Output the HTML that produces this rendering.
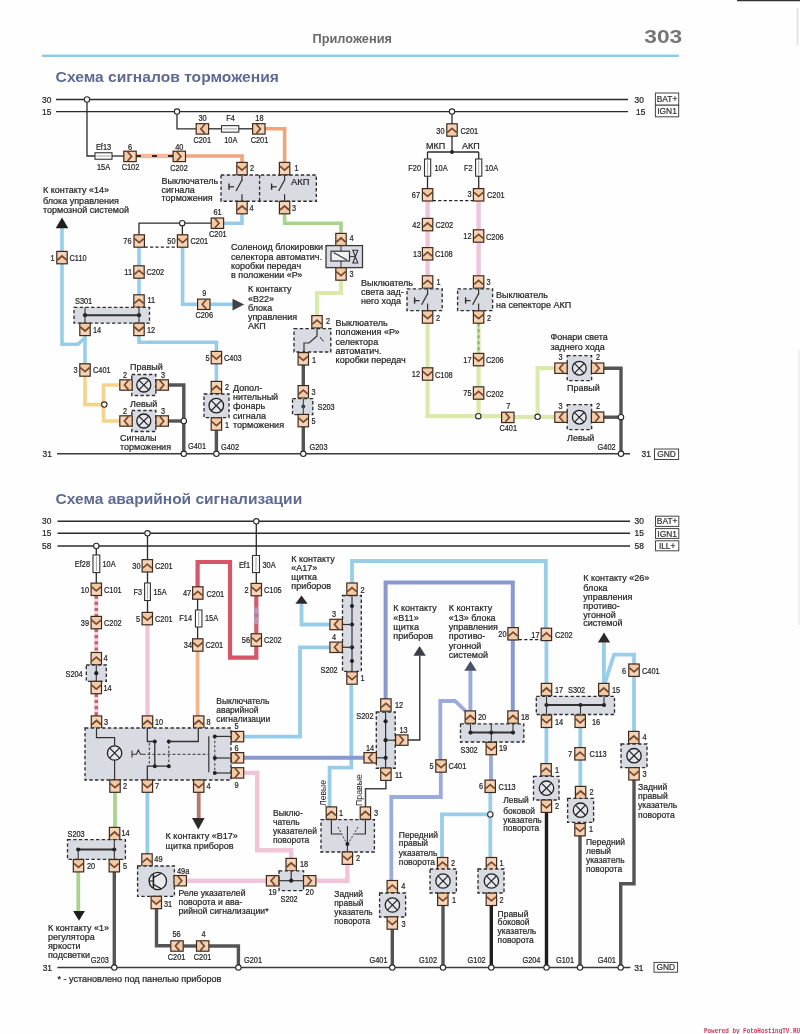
<!DOCTYPE html>
<html><head><meta charset="utf-8"><style>
html,body{margin:0;padding:0;background:#fff;}
svg{display:block;will-change:transform;filter:blur(0.35px);}
text{font-family:"Liberation Sans",sans-serif;}
</style></head><body>
<svg width="800" height="1034" viewBox="0 0 800 1034">
<rect width="800" height="1034" fill="#fefefe"/>
<polyline points="136,156 173,156" fill="none" stroke="#f4b89c" stroke-width="4.6" stroke-linejoin="miter"/>
<polyline points="136,156 173,156" fill="none" stroke="#2b2b2b" stroke-width="1.8" stroke-linejoin="miter" stroke-dasharray="5,11"/>
<polyline points="185.6,156 242,156 242,163" fill="none" stroke="#f2a47c" stroke-width="3.6" stroke-linejoin="miter"/>
<polyline points="265,128.8 284.6,128.8 284.6,163" fill="none" stroke="#f2a47c" stroke-width="3.6" stroke-linejoin="miter"/>
<polyline points="242,213.6 242,223.2 223.5,223.2" fill="none" stroke="#98cdea" stroke-width="3.6" stroke-linejoin="miter"/>
<polyline points="139,247.3 139,266" fill="none" stroke="#98cdea" stroke-width="3.6" stroke-linejoin="miter"/>
<polyline points="139,278.2 139,295" fill="none" stroke="#98cdea" stroke-width="3.6" stroke-linejoin="miter"/>
<polyline points="62,228 62,251.5" fill="none" stroke="#98cdea" stroke-width="3.6" stroke-linejoin="miter"/>
<polyline points="62,263.7 62,344.2 78,344.2 84.6,338" fill="none" stroke="#98cdea" stroke-width="3.6" stroke-linejoin="miter"/>
<polyline points="85,335.5 85,364" fill="none" stroke="#98cdea" stroke-width="3.6" stroke-linejoin="miter"/>
<polyline points="85,376 85,404.6 103.5,404.6" fill="none" stroke="#f6d38c" stroke-width="3.6" stroke-linejoin="miter"/>
<polyline points="120,385 103.5,385 103.5,421 120,421" fill="none" stroke="#f6d38c" stroke-width="3.6" stroke-linejoin="miter"/>
<polyline points="168.5,385 183.8,385 183.8,453.8" fill="none" stroke="#545454" stroke-width="3.4" stroke-linejoin="miter"/>
<polyline points="168.5,421 183.8,421" fill="none" stroke="#545454" stroke-width="3.4" stroke-linejoin="miter"/>
<polyline points="182.6,247.3 182.6,304.3 197.5,304.3" fill="none" stroke="#98cdea" stroke-width="3.6" stroke-linejoin="miter"/>
<polyline points="210,304.3 233,304.3" fill="none" stroke="#98cdea" stroke-width="3.6" stroke-linejoin="miter"/>
<polyline points="139,335.6 139,342.2 216.4,342.2 216.4,351.5" fill="none" stroke="#98cdea" stroke-width="3.6" stroke-linejoin="miter"/>
<polyline points="216.4,363.8 216.4,382" fill="none" stroke="#98cdea" stroke-width="3.6" stroke-linejoin="miter"/>
<polyline points="216.4,430.2 216.4,453.8" fill="none" stroke="#545454" stroke-width="3.4" stroke-linejoin="miter"/>
<polyline points="284.6,213.8 284.6,223.3 341,223.3 341,234" fill="none" stroke="#a9d48b" stroke-width="3.6" stroke-linejoin="miter"/>
<polyline points="341,280 341,293 317,293 317,316" fill="none" stroke="#dce9ad" stroke-width="4.2" stroke-linejoin="miter"/>
<polyline points="303.3,365 303.3,386" fill="none" stroke="#545454" stroke-width="3.4" stroke-linejoin="miter"/>
<polyline points="303.3,426.8 303.3,453.8" fill="none" stroke="#545454" stroke-width="3.4" stroke-linejoin="miter"/>
<polyline points="427.6,201 427.6,219" fill="none" stroke="#f2c4d9" stroke-width="4.4" stroke-linejoin="miter"/>
<polyline points="427.6,230.8 427.6,247.6" fill="none" stroke="#f2c4d9" stroke-width="4.4" stroke-linejoin="miter"/>
<polyline points="427.6,260 427.6,276" fill="none" stroke="#f2c4d9" stroke-width="4.4" stroke-linejoin="miter"/>
<polyline points="427.6,323.2 427.6,368" fill="none" stroke="#dce9ad" stroke-width="4.2" stroke-linejoin="miter"/>
<polyline points="427.6,380.2 427.6,416.2 478.5,416.2" fill="none" stroke="#dce9ad" stroke-width="4.2" stroke-linejoin="miter"/>
<polyline points="478.6,201 478.6,230" fill="none" stroke="#f2c4d9" stroke-width="4.4" stroke-linejoin="miter"/>
<polyline points="478.6,242.2 478.6,276" fill="none" stroke="#f2c4d9" stroke-width="4.4" stroke-linejoin="miter"/>
<polyline points="478.6,323.2 478.6,353.5" fill="none" stroke="#cfe3a0" stroke-width="3.8" stroke-linejoin="miter"/>
<polyline points="478.6,323.2 478.6,353.5" fill="none" stroke="#7aa860" stroke-width="1.6" stroke-linejoin="miter" stroke-dasharray="3,3"/>
<polyline points="478.6,365.8 478.6,387" fill="none" stroke="#dce9ad" stroke-width="4.2" stroke-linejoin="miter"/>
<polyline points="478.6,399.2 478.6,414" fill="none" stroke="#dce9ad" stroke-width="4.2" stroke-linejoin="miter"/>
<polyline points="480.5,416.2 501.5,416.2" fill="none" stroke="#dce9ad" stroke-width="4.2" stroke-linejoin="miter"/>
<polyline points="514,417 535.5,417" fill="none" stroke="#dce9ad" stroke-width="4.2" stroke-linejoin="miter"/>
<polyline points="539.5,417 555,417" fill="none" stroke="#dce9ad" stroke-width="4.2" stroke-linejoin="miter"/>
<polyline points="537.6,414 537.6,368.2 555,368.2" fill="none" stroke="#dce9ad" stroke-width="4.2" stroke-linejoin="miter"/>
<polyline points="603.6,368.2 621,368.2 621,453.8" fill="none" stroke="#545454" stroke-width="3.4" stroke-linejoin="miter"/>
<polyline points="603.6,417.2 621,417.2" fill="none" stroke="#545454" stroke-width="3.4" stroke-linejoin="miter"/>
<polyline points="96.3,595.5 96.3,616.3" fill="none" stroke="#f2d4d8" stroke-width="4.4" stroke-linejoin="miter"/>
<polyline points="96.3,595.5 96.3,616.3" fill="none" stroke="#c8606e" stroke-width="3.4" stroke-linejoin="miter" stroke-dasharray="3.2,3"/>
<polyline points="96.3,628.8 96.3,652.4" fill="none" stroke="#f2d4d8" stroke-width="4.4" stroke-linejoin="miter"/>
<polyline points="96.3,628.8 96.3,652.4" fill="none" stroke="#c8606e" stroke-width="3.4" stroke-linejoin="miter" stroke-dasharray="3.2,3"/>
<polyline points="96.3,693.7 96.3,716.2" fill="none" stroke="#f2d4d8" stroke-width="4.4" stroke-linejoin="miter"/>
<polyline points="96.3,693.7 96.3,716.2" fill="none" stroke="#c8606e" stroke-width="3.4" stroke-linejoin="miter" stroke-dasharray="3.2,3"/>
<polyline points="147.5,624.8 147.5,716.2" fill="none" stroke="#f2c4d9" stroke-width="4.4" stroke-linejoin="miter"/>
<polyline points="256.3,595.8 256.3,633.8" fill="none" stroke="#d65a6a" stroke-width="4.2" stroke-linejoin="miter"/>
<polyline points="256.3,646 256.3,657.6 230,657.6 230,562 197.6,562 197.6,587" fill="none" stroke="#d65566" stroke-width="4.2" stroke-linejoin="miter"/>
<polyline points="197.6,651.2 197.6,716.2" fill="none" stroke="#f2b48c" stroke-width="3.8" stroke-linejoin="miter"/>
<polyline points="115,792.3 115,827.6" fill="none" stroke="#a9d48b" stroke-width="3.8" stroke-linejoin="miter"/>
<polyline points="78.3,872 78.3,911" fill="none" stroke="#a9d48b" stroke-width="3.8" stroke-linejoin="miter"/>
<polyline points="114.3,872 114.3,967.6" fill="none" stroke="#545454" stroke-width="3.4" stroke-linejoin="miter"/>
<polyline points="147.4,792.3 147.4,854" fill="none" stroke="#98cdea" stroke-width="3.8" stroke-linejoin="miter"/>
<polyline points="186.2,880.7 267,880.7" fill="none" stroke="#f2c4d9" stroke-width="4.4" stroke-linejoin="miter"/>
<polyline points="156.5,908.6 156.5,945.8 170.4,945.8" fill="none" stroke="#545454" stroke-width="3.4" stroke-linejoin="miter"/>
<polyline points="183.6,946 196.4,946" fill="none" stroke="#545454" stroke-width="3.4" stroke-linejoin="miter"/>
<polyline points="209,946 238.4,946 238.4,967.6" fill="none" stroke="#545454" stroke-width="3.4" stroke-linejoin="miter"/>
<polyline points="198.7,792.3 198.7,818" fill="none" stroke="#b8776a" stroke-width="3.8" stroke-linejoin="miter"/>
<polyline points="301.5,603.5 301.5,624.5 330,624.5" fill="none" stroke="#98cdea" stroke-width="3.8" stroke-linejoin="miter"/>
<polyline points="243.8,736.6 300,736.6 300,647.3 330,647.3" fill="none" stroke="#98cdea" stroke-width="3.8" stroke-linejoin="miter"/>
<polyline points="352,583 352,561 545.8,561 545.8,628.6" fill="none" stroke="#98cdea" stroke-width="3.8" stroke-linejoin="miter"/>
<polyline points="351.3,684.2 351.3,767.6 329.6,767.6 329.6,807" fill="none" stroke="#98cdea" stroke-width="3.8" stroke-linejoin="miter"/>
<polyline points="243.8,757.8 364,757.8" fill="none" stroke="#8a98d0" stroke-width="4" stroke-linejoin="miter"/>
<polyline points="385.6,698.8 385.6,582.6 512.8,582.6 512.8,627.8" fill="none" stroke="#8a98d0" stroke-width="4" stroke-linejoin="miter"/>
<polyline points="243.8,772.9 257.2,772.9 257.2,850.2 291.2,850.2 291.2,858.6" fill="none" stroke="#f2c4d9" stroke-width="4.4" stroke-linejoin="miter"/>
<polyline points="315.9,880.8 347.4,880.8 347.4,864.4" fill="none" stroke="#f2c4d9" stroke-width="4.4" stroke-linejoin="miter"/>
<polyline points="470.4,670.5 470.4,711" fill="none" stroke="#9aaada" stroke-width="3.9" stroke-linejoin="miter"/>
<polyline points="512.8,639.6 512.8,711" fill="none" stroke="#8a98d0" stroke-width="4" stroke-linejoin="miter"/>
<polyline points="466,711.5 455,701 440.3,701 440.3,760" fill="none" stroke="#9aaada" stroke-width="3.8" stroke-linejoin="miter"/>
<polyline points="440.8,772.2 440.8,797 391.3,797 391.3,881" fill="none" stroke="#9aaada" stroke-width="3.8" stroke-linejoin="miter"/>
<polyline points="491,754.7 491,780" fill="none" stroke="#9aaada" stroke-width="3.9" stroke-linejoin="miter"/>
<polyline points="490.3,792.6 490.3,812" fill="none" stroke="#98cdea" stroke-width="3.8" stroke-linejoin="miter"/>
<polyline points="487.6,814.4 442,814.4 442,857.6" fill="none" stroke="#98cdea" stroke-width="3.8" stroke-linejoin="miter"/>
<polyline points="490.3,817.2 490.3,857.6" fill="none" stroke="#98cdea" stroke-width="3.8" stroke-linejoin="miter"/>
<polyline points="392.3,929.2 392.3,967.6" fill="none" stroke="#545454" stroke-width="3.4" stroke-linejoin="miter"/>
<polyline points="443,905.5 443,967.6" fill="none" stroke="#545454" stroke-width="3.4" stroke-linejoin="miter"/>
<polyline points="491.3,905.5 491.3,967.6" fill="none" stroke="#1e1e1e" stroke-width="3.4" stroke-linejoin="miter"/>
<polyline points="546.4,640.4 546.4,683.5" fill="none" stroke="#98cdea" stroke-width="3.8" stroke-linejoin="miter"/>
<polyline points="603.9,642.4 603.9,683.5" fill="none" stroke="#98cdea" stroke-width="3.8" stroke-linejoin="miter"/>
<polyline points="605,683 614,654.6 634,654.6 634,664.2" fill="none" stroke="#98cdea" stroke-width="3.8" stroke-linejoin="miter"/>
<polyline points="546.4,727.6 546.4,764" fill="none" stroke="#98cdea" stroke-width="3.8" stroke-linejoin="miter"/>
<polyline points="546.5,812.4 546.5,967.6" fill="none" stroke="#1e1e1e" stroke-width="3.4" stroke-linejoin="miter"/>
<polyline points="580.3,727.6 580.3,747.5" fill="none" stroke="#98cdea" stroke-width="3.8" stroke-linejoin="miter"/>
<polyline points="580.3,760 580.3,787" fill="none" stroke="#98cdea" stroke-width="3.8" stroke-linejoin="miter"/>
<polyline points="580,835.8 580,967.6" fill="none" stroke="#545454" stroke-width="3.4" stroke-linejoin="miter"/>
<polyline points="634,676.4 634,732" fill="none" stroke="#98cdea" stroke-width="3.8" stroke-linejoin="miter"/>
<polyline points="634,780 634,883.7 620.7,883.7 620.7,967.6" fill="none" stroke="#545454" stroke-width="3.4" stroke-linejoin="miter"/>
<line x1="42" y1="55.8" x2="679" y2="55.8" stroke="#8fcbe4" stroke-width="2.6"/>
<line x1="737" y1="0.6" x2="800" y2="0.6" stroke="#333" stroke-width="1.4"/>
<line x1="797.5" y1="8" x2="797.5" y2="45" stroke="#ddd" stroke-width="1.5"/>
<line x1="799" y1="350" x2="799" y2="625" stroke="#f0f0f0" stroke-width="2"/>
<line x1="56" y1="99.5" x2="628" y2="99.5" stroke="#2b2b2b" stroke-width="1.4"/>
<line x1="56" y1="111.6" x2="628" y2="111.6" stroke="#2b2b2b" stroke-width="1.4"/>
<line x1="57" y1="453.8" x2="630" y2="453.8" stroke="#3a3a3a" stroke-width="1.5"/>
<rect x="655.4" y="93" width="23.3" height="12.2" fill="#fff" stroke="#444" stroke-width="1"/>
<rect x="655.4" y="105.2" width="23.3" height="11.6" fill="#fff" stroke="#444" stroke-width="1"/>
<rect x="654.5" y="449" width="24.1" height="10.5" fill="#fff" stroke="#444" stroke-width="1"/>
<polyline points="87,102.2 87,156 95,156" fill="none" stroke="#2b2b2b" stroke-width="1.3" stroke-linejoin="miter" stroke-linecap="butt"/>
<rect x="95" y="152.75" width="17" height="6.5" fill="#fff" stroke="#333" stroke-width="1.1"/>
<line x1="96.5" y1="156" x2="110.5" y2="156" stroke="#777" stroke-width="0.7"/>
<line x1="112" y1="156" x2="124" y2="156" stroke="#2b2b2b" stroke-width="1.3"/>
<rect x="123.8" y="151.2" width="12.4" height="10.4" fill="#f6d4b8" stroke="none" stroke-width="0"/>
<polygon points="123.8,151.2 123.8,161.6 127.6,161.6 131.6,156.4 127.6,151.2" fill="#f2caa6"/>
<polyline points="127.6,151.8 131.6,156.4 127.6,161" fill="none" stroke="#7a4a2c" stroke-width="1.7" stroke-linejoin="miter" stroke-linecap="butt" stroke-linejoin="round"/>
<rect x="123.8" y="151.2" width="12.4" height="10.4" fill="none" stroke="#3c2a1e" stroke-width="1.2"/>
<rect x="173.1" y="151.2" width="12.4" height="10.4" fill="#f6d4b8" stroke="none" stroke-width="0"/>
<polygon points="173.1,151.2 173.1,161.6 176.9,161.6 180.9,156.4 176.9,151.2" fill="#f2caa6"/>
<polyline points="176.9,151.8 180.9,156.4 176.9,161" fill="none" stroke="#7a4a2c" stroke-width="1.7" stroke-linejoin="miter" stroke-linecap="butt" stroke-linejoin="round"/>
<rect x="173.1" y="151.2" width="12.4" height="10.4" fill="none" stroke="#3c2a1e" stroke-width="1.2"/>
<polyline points="177,114.3 177,128.8 196,128.8" fill="none" stroke="#2b2b2b" stroke-width="1.3" stroke-linejoin="miter" stroke-linecap="butt"/>
<rect x="196.2" y="123.7" width="12.4" height="10.4" fill="#f6d4b8" stroke="none" stroke-width="0"/>
<polygon points="208.6,123.7 208.6,134.1 204.8,134.1 200.8,128.9 204.8,123.7" fill="#f2caa6"/>
<polyline points="204.8,124.3 200.8,128.9 204.8,133.5" fill="none" stroke="#7a4a2c" stroke-width="1.7" stroke-linejoin="miter" stroke-linecap="butt" stroke-linejoin="round"/>
<rect x="196.2" y="123.7" width="12.4" height="10.4" fill="none" stroke="#3c2a1e" stroke-width="1.2"/>
<line x1="208.6" y1="128.8" x2="221.5" y2="128.8" stroke="#2b2b2b" stroke-width="1.3"/>
<rect x="221.5" y="125.65" width="17.3" height="6.5" fill="#fff" stroke="#333" stroke-width="1.1"/>
<line x1="223" y1="128.9" x2="237.3" y2="128.9" stroke="#777" stroke-width="0.7"/>
<line x1="238.8" y1="128.8" x2="252.5" y2="128.8" stroke="#2b2b2b" stroke-width="1.3"/>
<rect x="252.6" y="123.7" width="12.4" height="10.4" fill="#f6d4b8" stroke="none" stroke-width="0"/>
<polygon points="252.6,123.7 252.6,134.1 256.4,134.1 260.4,128.9 256.4,123.7" fill="#f2caa6"/>
<polyline points="256.4,124.3 260.4,128.9 256.4,133.5" fill="none" stroke="#7a4a2c" stroke-width="1.7" stroke-linejoin="miter" stroke-linecap="butt" stroke-linejoin="round"/>
<rect x="252.6" y="123.7" width="12.4" height="10.4" fill="none" stroke="#3c2a1e" stroke-width="1.2"/>
<rect x="221" y="175" width="95.3" height="26.2" fill="#d8dbe1" stroke="#2e2e2e" stroke-width="1.35" stroke-dasharray="3.4,2.3"/>
<line x1="259.6" y1="175" x2="259.6" y2="201.2" stroke="#2e2e2e" stroke-width="1.35" stroke-dasharray="3.4,2.3"/>
<rect x="236.8" y="162.4" width="10.4" height="12.4" fill="#f6d4b8" stroke="none" stroke-width="0"/>
<polygon points="236.8,162.4 247.2,162.4 247.2,166.2 242,170.2 236.8,166.2" fill="#f2caa6"/>
<polyline points="237.4,166.2 242,170.2 246.6,166.2" fill="none" stroke="#7a4a2c" stroke-width="1.7" stroke-linejoin="miter" stroke-linecap="butt" stroke-linejoin="round"/>
<rect x="236.8" y="162.4" width="10.4" height="12.4" fill="none" stroke="#3c2a1e" stroke-width="1.2"/>
<rect x="279.4" y="162.4" width="10.4" height="12.4" fill="#f6d4b8" stroke="none" stroke-width="0"/>
<polygon points="279.4,162.4 289.8,162.4 289.8,166.2 284.6,170.2 279.4,166.2" fill="#f2caa6"/>
<polyline points="280,166.2 284.6,170.2 289.2,166.2" fill="none" stroke="#7a4a2c" stroke-width="1.7" stroke-linejoin="miter" stroke-linecap="butt" stroke-linejoin="round"/>
<rect x="279.4" y="162.4" width="10.4" height="12.4" fill="none" stroke="#3c2a1e" stroke-width="1.2"/>
<line x1="242" y1="175" x2="242" y2="181" stroke="#333" stroke-width="1.2"/>
<line x1="242" y1="180" x2="236" y2="191" stroke="#333" stroke-width="1.3"/>
<line x1="242" y1="194.2" x2="242" y2="201.2" stroke="#333" stroke-width="1.2"/>
<line x1="229" y1="183.5" x2="229" y2="189.8" stroke="#2a2a2a" stroke-width="1.4"/>
<line x1="229" y1="186.8" x2="234" y2="186.8" stroke="#2a2a2a" stroke-width="1.2"/>
<line x1="284.6" y1="175" x2="284.6" y2="181" stroke="#333" stroke-width="1.2"/>
<line x1="284.6" y1="180" x2="278.6" y2="191" stroke="#333" stroke-width="1.3"/>
<line x1="284.6" y1="194.2" x2="284.6" y2="201.2" stroke="#333" stroke-width="1.2"/>
<line x1="271.6" y1="183.5" x2="271.6" y2="189.8" stroke="#2a2a2a" stroke-width="1.4"/>
<line x1="271.6" y1="186.8" x2="276.6" y2="186.8" stroke="#2a2a2a" stroke-width="1.2"/>
<rect x="236.8" y="201.4" width="10.4" height="12.4" fill="#f6d4b8" stroke="none" stroke-width="0"/>
<polygon points="236.8,213.8 247.2,213.8 247.2,210 242,206 236.8,210" fill="#f2caa6"/>
<polyline points="237.4,210 242,206 246.6,210" fill="none" stroke="#7a4a2c" stroke-width="1.7" stroke-linejoin="miter" stroke-linecap="butt" stroke-linejoin="round"/>
<rect x="236.8" y="201.4" width="10.4" height="12.4" fill="none" stroke="#3c2a1e" stroke-width="1.2"/>
<rect x="279.4" y="201.4" width="10.4" height="12.4" fill="#f6d4b8" stroke="none" stroke-width="0"/>
<polygon points="279.4,213.8 289.8,213.8 289.8,210 284.6,206 279.4,210" fill="#f2caa6"/>
<polyline points="280,210 284.6,206 289.2,210" fill="none" stroke="#7a4a2c" stroke-width="1.7" stroke-linejoin="miter" stroke-linecap="butt" stroke-linejoin="round"/>
<rect x="279.4" y="201.4" width="10.4" height="12.4" fill="none" stroke="#3c2a1e" stroke-width="1.2"/>
<polyline points="211.5,223.2 139,223.2 139,235" fill="none" stroke="#2b2b2b" stroke-width="1.3" stroke-linejoin="miter" stroke-linecap="butt"/>
<line x1="182.4" y1="223.2" x2="182.4" y2="235" stroke="#2b2b2b" stroke-width="1.3"/>
<rect x="211.2" y="218" width="12.4" height="10.4" fill="#f6d4b8" stroke="none" stroke-width="0"/>
<polygon points="211.2,218 211.2,228.4 215,228.4 219,223.2 215,218" fill="#f2caa6"/>
<polyline points="215,218.6 219,223.2 215,227.8" fill="none" stroke="#7a4a2c" stroke-width="1.7" stroke-linejoin="miter" stroke-linecap="butt" stroke-linejoin="round"/>
<rect x="211.2" y="218" width="12.4" height="10.4" fill="none" stroke="#3c2a1e" stroke-width="1.2"/>
<rect x="134" y="234.8" width="10.4" height="12.4" fill="#f6d4b8" stroke="none" stroke-width="0"/>
<polygon points="134,234.8 144.4,234.8 144.4,238.6 139.2,242.6 134,238.6" fill="#f2caa6"/>
<polyline points="134.6,238.6 139.2,242.6 143.8,238.6" fill="none" stroke="#7a4a2c" stroke-width="1.7" stroke-linejoin="miter" stroke-linecap="butt" stroke-linejoin="round"/>
<rect x="134" y="234.8" width="10.4" height="12.4" fill="none" stroke="#3c2a1e" stroke-width="1.2"/>
<rect x="177.4" y="234.8" width="10.4" height="12.4" fill="#f6d4b8" stroke="none" stroke-width="0"/>
<polygon points="177.4,234.8 187.8,234.8 187.8,238.6 182.6,242.6 177.4,238.6" fill="#f2caa6"/>
<polyline points="178,238.6 182.6,242.6 187.2,238.6" fill="none" stroke="#7a4a2c" stroke-width="1.7" stroke-linejoin="miter" stroke-linecap="butt" stroke-linejoin="round"/>
<rect x="177.4" y="234.8" width="10.4" height="12.4" fill="none" stroke="#3c2a1e" stroke-width="1.2"/>
<line x1="144.6" y1="247" x2="177.4" y2="247" stroke="#262626" stroke-width="1.25" stroke-dasharray="3.2,2.2"/>
<rect x="133.8" y="265.8" width="10.4" height="12.4" fill="#f6d4b8" stroke="none" stroke-width="0"/>
<polygon points="133.8,278.2 144.2,278.2 144.2,274.4 139,270.4 133.8,274.4" fill="#f2caa6"/>
<polyline points="134.4,274.4 139,270.4 143.6,274.4" fill="none" stroke="#7a4a2c" stroke-width="1.7" stroke-linejoin="miter" stroke-linecap="butt" stroke-linejoin="round"/>
<rect x="133.8" y="265.8" width="10.4" height="12.4" fill="none" stroke="#3c2a1e" stroke-width="1.2"/>
<rect x="133.8" y="294.8" width="10.4" height="12.4" fill="#f6d4b8" stroke="none" stroke-width="0"/>
<polygon points="133.8,307.2 144.2,307.2 144.2,303.4 139,299.4 133.8,303.4" fill="#f2caa6"/>
<polyline points="134.4,303.4 139,299.4 143.6,303.4" fill="none" stroke="#7a4a2c" stroke-width="1.7" stroke-linejoin="miter" stroke-linecap="butt" stroke-linejoin="round"/>
<rect x="133.8" y="294.8" width="10.4" height="12.4" fill="none" stroke="#3c2a1e" stroke-width="1.2"/>
<rect x="74" y="307.4" width="75.5" height="15.8" fill="#d8dbe1" stroke="#2e2e2e" stroke-width="1.35" stroke-dasharray="3.4,2.3"/>
<line x1="85" y1="315.2" x2="139" y2="315.2" stroke="#333" stroke-width="2"/>
<circle cx="85" cy="315.2" r="2.1" fill="#222"/>
<circle cx="139" cy="315.2" r="2.1" fill="#222"/>
<line x1="85" y1="307.4" x2="85" y2="315" stroke="#333" stroke-width="1.1"/>
<line x1="139" y1="307.4" x2="139" y2="315" stroke="#333" stroke-width="1.1"/>
<line x1="85" y1="315" x2="85" y2="323.2" stroke="#333" stroke-width="1.1"/>
<line x1="139" y1="315" x2="139" y2="323.2" stroke="#333" stroke-width="1.1"/>
<rect x="79.8" y="323.2" width="10.4" height="12.4" fill="#f6d4b8" stroke="none" stroke-width="0"/>
<polygon points="79.8,323.2 90.2,323.2 90.2,327 85,331 79.8,327" fill="#f2caa6"/>
<polyline points="80.4,327 85,331 89.6,327" fill="none" stroke="#7a4a2c" stroke-width="1.7" stroke-linejoin="miter" stroke-linecap="butt" stroke-linejoin="round"/>
<rect x="79.8" y="323.2" width="10.4" height="12.4" fill="none" stroke="#3c2a1e" stroke-width="1.2"/>
<rect x="133.8" y="323.2" width="10.4" height="12.4" fill="#f6d4b8" stroke="none" stroke-width="0"/>
<polygon points="133.8,323.2 144.2,323.2 144.2,327 139,331 133.8,327" fill="#f2caa6"/>
<polyline points="134.4,327 139,331 143.6,327" fill="none" stroke="#7a4a2c" stroke-width="1.7" stroke-linejoin="miter" stroke-linecap="butt" stroke-linejoin="round"/>
<rect x="133.8" y="323.2" width="10.4" height="12.4" fill="none" stroke="#3c2a1e" stroke-width="1.2"/>
<polygon points="62,217.4 55.7,228.2 68.3,228.2" fill="#1e1e1e"/>
<rect x="56.8" y="251.4" width="10.4" height="12.4" fill="#f6d4b8" stroke="none" stroke-width="0"/>
<polygon points="56.8,263.8 67.2,263.8 67.2,260 62,256 56.8,260" fill="#f2caa6"/>
<polyline points="57.4,260 62,256 66.6,260" fill="none" stroke="#7a4a2c" stroke-width="1.7" stroke-linejoin="miter" stroke-linecap="butt" stroke-linejoin="round"/>
<rect x="56.8" y="251.4" width="10.4" height="12.4" fill="none" stroke="#3c2a1e" stroke-width="1.2"/>
<rect x="79.8" y="363.8" width="10.4" height="12.4" fill="#f6d4b8" stroke="none" stroke-width="0"/>
<polygon points="79.8,363.8 90.2,363.8 90.2,367.6 85,371.6 79.8,367.6" fill="#f2caa6"/>
<polyline points="80.4,367.6 85,371.6 89.6,367.6" fill="none" stroke="#7a4a2c" stroke-width="1.7" stroke-linejoin="miter" stroke-linecap="butt" stroke-linejoin="round"/>
<rect x="79.8" y="363.8" width="10.4" height="12.4" fill="none" stroke="#3c2a1e" stroke-width="1.2"/>
<rect x="131.8" y="374.5" width="24" height="21" fill="#d8dbe1" stroke="#2e2e2e" stroke-width="1.35" stroke-dasharray="3.4,2.3"/>
<circle cx="143.8" cy="385" r="7" fill="#e4e6ee" stroke="#222" stroke-width="1.3"/>
<line x1="138.85" y1="380.05" x2="148.75" y2="389.95" stroke="#222" stroke-width="1.2"/>
<line x1="138.85" y1="389.95" x2="148.75" y2="380.05" stroke="#222" stroke-width="1.2"/>
<rect x="119.8" y="379.8" width="12.4" height="10.4" fill="#f6d4b8" stroke="none" stroke-width="0"/>
<polygon points="132.2,379.8 132.2,390.2 128.4,390.2 124.4,385 128.4,379.8" fill="#f2caa6"/>
<polyline points="128.4,380.4 124.4,385 128.4,389.6" fill="none" stroke="#7a4a2c" stroke-width="1.7" stroke-linejoin="miter" stroke-linecap="butt" stroke-linejoin="round"/>
<rect x="119.8" y="379.8" width="12.4" height="10.4" fill="none" stroke="#3c2a1e" stroke-width="1.2"/>
<rect x="156" y="379.8" width="12.4" height="10.4" fill="#f6d4b8" stroke="none" stroke-width="0"/>
<polygon points="156,379.8 156,390.2 159.8,390.2 163.8,385 159.8,379.8" fill="#f2caa6"/>
<polyline points="159.8,380.4 163.8,385 159.8,389.6" fill="none" stroke="#7a4a2c" stroke-width="1.7" stroke-linejoin="miter" stroke-linecap="butt" stroke-linejoin="round"/>
<rect x="156" y="379.8" width="12.4" height="10.4" fill="none" stroke="#3c2a1e" stroke-width="1.2"/>
<rect x="131.8" y="410.5" width="24" height="21" fill="#d8dbe1" stroke="#2e2e2e" stroke-width="1.35" stroke-dasharray="3.4,2.3"/>
<circle cx="143.8" cy="421" r="7" fill="#e4e6ee" stroke="#222" stroke-width="1.3"/>
<line x1="138.85" y1="416.05" x2="148.75" y2="425.95" stroke="#222" stroke-width="1.2"/>
<line x1="138.85" y1="425.95" x2="148.75" y2="416.05" stroke="#222" stroke-width="1.2"/>
<rect x="119.8" y="415.8" width="12.4" height="10.4" fill="#f6d4b8" stroke="none" stroke-width="0"/>
<polygon points="132.2,415.8 132.2,426.2 128.4,426.2 124.4,421 128.4,415.8" fill="#f2caa6"/>
<polyline points="128.4,416.4 124.4,421 128.4,425.6" fill="none" stroke="#7a4a2c" stroke-width="1.7" stroke-linejoin="miter" stroke-linecap="butt" stroke-linejoin="round"/>
<rect x="119.8" y="415.8" width="12.4" height="10.4" fill="none" stroke="#3c2a1e" stroke-width="1.2"/>
<rect x="156" y="415.8" width="12.4" height="10.4" fill="#f6d4b8" stroke="none" stroke-width="0"/>
<polygon points="156,415.8 156,426.2 159.8,426.2 163.8,421 159.8,415.8" fill="#f2caa6"/>
<polyline points="159.8,416.4 163.8,421 159.8,425.6" fill="none" stroke="#7a4a2c" stroke-width="1.7" stroke-linejoin="miter" stroke-linecap="butt" stroke-linejoin="round"/>
<rect x="156" y="415.8" width="12.4" height="10.4" fill="none" stroke="#3c2a1e" stroke-width="1.2"/>
<rect x="197.6" y="299.1" width="12.4" height="10.4" fill="#f6d4b8" stroke="none" stroke-width="0"/>
<polygon points="210,299.1 210,309.5 206.2,309.5 202.2,304.3 206.2,299.1" fill="#f2caa6"/>
<polyline points="206.2,299.7 202.2,304.3 206.2,308.9" fill="none" stroke="#7a4a2c" stroke-width="1.7" stroke-linejoin="miter" stroke-linecap="butt" stroke-linejoin="round"/>
<rect x="197.6" y="299.1" width="12.4" height="10.4" fill="none" stroke="#3c2a1e" stroke-width="1.2"/>
<polygon points="232.5,298.8 244.2,304.6 232.5,310.4" fill="#404048"/>
<rect x="211.2" y="351.4" width="10.4" height="12.4" fill="#f6d4b8" stroke="none" stroke-width="0"/>
<polygon points="211.2,351.4 221.6,351.4 221.6,355.2 216.4,359.2 211.2,355.2" fill="#f2caa6"/>
<polyline points="211.8,355.2 216.4,359.2 221,355.2" fill="none" stroke="#7a4a2c" stroke-width="1.7" stroke-linejoin="miter" stroke-linecap="butt" stroke-linejoin="round"/>
<rect x="211.2" y="351.4" width="10.4" height="12.4" fill="none" stroke="#3c2a1e" stroke-width="1.2"/>
<rect x="211.2" y="381.4" width="10.4" height="12.4" fill="#f6d4b8" stroke="none" stroke-width="0"/>
<polygon points="211.2,393.8 221.6,393.8 221.6,390 216.4,386 211.2,390" fill="#f2caa6"/>
<polyline points="211.8,390 216.4,386 221,390" fill="none" stroke="#7a4a2c" stroke-width="1.7" stroke-linejoin="miter" stroke-linecap="butt" stroke-linejoin="round"/>
<rect x="211.2" y="381.4" width="10.4" height="12.4" fill="none" stroke="#3c2a1e" stroke-width="1.2"/>
<rect x="204" y="394" width="25" height="23.6" fill="#d8dbe1" stroke="#2e2e2e" stroke-width="1.35" stroke-dasharray="3.4,2.3"/>
<circle cx="216.3" cy="405.6" r="7.3" fill="#e4e6ee" stroke="#222" stroke-width="1.3"/>
<line x1="211.14" y1="400.44" x2="221.46" y2="410.76" stroke="#222" stroke-width="1.2"/>
<line x1="211.14" y1="410.76" x2="221.46" y2="400.44" stroke="#222" stroke-width="1.2"/>
<rect x="211.2" y="417.8" width="10.4" height="12.4" fill="#f6d4b8" stroke="none" stroke-width="0"/>
<polygon points="211.2,417.8 221.6,417.8 221.6,421.6 216.4,425.6 211.2,421.6" fill="#f2caa6"/>
<polyline points="211.8,421.6 216.4,425.6 221,421.6" fill="none" stroke="#7a4a2c" stroke-width="1.7" stroke-linejoin="miter" stroke-linecap="butt" stroke-linejoin="round"/>
<rect x="211.2" y="417.8" width="10.4" height="12.4" fill="none" stroke="#3c2a1e" stroke-width="1.2"/>
<rect x="335.8" y="233.4" width="10.4" height="12.4" fill="#f6d4b8" stroke="none" stroke-width="0"/>
<polygon points="335.8,245.8 346.2,245.8 346.2,242 341,238 335.8,242" fill="#f2caa6"/>
<polyline points="336.4,242 341,238 345.6,242" fill="none" stroke="#7a4a2c" stroke-width="1.7" stroke-linejoin="miter" stroke-linecap="butt" stroke-linejoin="round"/>
<rect x="335.8" y="233.4" width="10.4" height="12.4" fill="none" stroke="#3c2a1e" stroke-width="1.2"/>
<rect x="326" y="245.6" width="36.5" height="22" fill="#d8dbe1" stroke="#3a3a3a" stroke-width="1.3"/>
<rect x="331" y="251.2" width="18.5" height="9.8" fill="#eef0f4" stroke="#333" stroke-width="1.2"/>
<line x1="333.5" y1="252.5" x2="347" y2="260" stroke="#333" stroke-width="1.1"/>
<line x1="341" y1="245.6" x2="341" y2="251.2" stroke="#333" stroke-width="1"/>
<line x1="341" y1="261" x2="341" y2="267.6" stroke="#333" stroke-width="1"/>
<polygon points="352.8,250.3 357.8,250.3 352.8,263 357.8,263" fill="none" stroke="#333" stroke-width="1.1"/>
<line x1="349.5" y1="256.6" x2="355.3" y2="256.6" stroke="#333" stroke-width="1"/>
<rect x="335.8" y="267.8" width="10.4" height="12.4" fill="#f6d4b8" stroke="none" stroke-width="0"/>
<polygon points="335.8,267.8 346.2,267.8 346.2,271.6 341,275.6 335.8,271.6" fill="#f2caa6"/>
<polyline points="336.4,271.6 341,275.6 345.6,271.6" fill="none" stroke="#7a4a2c" stroke-width="1.7" stroke-linejoin="miter" stroke-linecap="butt" stroke-linejoin="round"/>
<rect x="335.8" y="267.8" width="10.4" height="12.4" fill="none" stroke="#3c2a1e" stroke-width="1.2"/>
<rect x="311.8" y="315.6" width="10.4" height="12.4" fill="#f6d4b8" stroke="none" stroke-width="0"/>
<polygon points="311.8,328 322.2,328 322.2,324.2 317,320.2 311.8,324.2" fill="#f2caa6"/>
<polyline points="312.4,324.2 317,320.2 321.6,324.2" fill="none" stroke="#7a4a2c" stroke-width="1.7" stroke-linejoin="miter" stroke-linecap="butt" stroke-linejoin="round"/>
<rect x="311.8" y="315.6" width="10.4" height="12.4" fill="none" stroke="#3c2a1e" stroke-width="1.2"/>
<rect x="294" y="328.6" width="36.8" height="23.4" fill="#d8dbe1" stroke="#2e2e2e" stroke-width="1.35" stroke-dasharray="3.4,2.3"/>
<polyline points="317,328.6 317,336 309,343 304,343 304,352" fill="none" stroke="#333" stroke-width="1.2" stroke-linejoin="miter" stroke-linecap="butt"/>
<line x1="320" y1="337" x2="323.5" y2="341.5" stroke="#333" stroke-width="1"/>
<rect x="298.1" y="352.6" width="10.4" height="12.4" fill="#f6d4b8" stroke="none" stroke-width="0"/>
<polygon points="298.1,352.6 308.5,352.6 308.5,356.4 303.3,360.4 298.1,356.4" fill="#f2caa6"/>
<polyline points="298.7,356.4 303.3,360.4 307.9,356.4" fill="none" stroke="#7a4a2c" stroke-width="1.7" stroke-linejoin="miter" stroke-linecap="butt" stroke-linejoin="round"/>
<rect x="298.1" y="352.6" width="10.4" height="12.4" fill="none" stroke="#3c2a1e" stroke-width="1.2"/>
<rect x="298.1" y="385.6" width="10.4" height="12.4" fill="#f6d4b8" stroke="none" stroke-width="0"/>
<polygon points="298.1,398 308.5,398 308.5,394.2 303.3,390.2 298.1,394.2" fill="#f2caa6"/>
<polyline points="298.7,394.2 303.3,390.2 307.9,394.2" fill="none" stroke="#7a4a2c" stroke-width="1.7" stroke-linejoin="miter" stroke-linecap="butt" stroke-linejoin="round"/>
<rect x="298.1" y="385.6" width="10.4" height="12.4" fill="none" stroke="#3c2a1e" stroke-width="1.2"/>
<rect x="292.5" y="398.6" width="20.3" height="16" fill="#d8dbe1" stroke="#2e2e2e" stroke-width="1.35" stroke-dasharray="3.4,2.3"/>
<line x1="303.3" y1="398.6" x2="303.3" y2="414.6" stroke="#333" stroke-width="1"/>
<circle cx="303.3" cy="406.6" r="2" fill="#345"/>
<rect x="298.1" y="414.4" width="10.4" height="12.4" fill="#f6d4b8" stroke="none" stroke-width="0"/>
<polygon points="298.1,414.4 308.5,414.4 308.5,418.2 303.3,422.2 298.1,418.2" fill="#f2caa6"/>
<polyline points="298.7,418.2 303.3,422.2 307.9,418.2" fill="none" stroke="#7a4a2c" stroke-width="1.7" stroke-linejoin="miter" stroke-linecap="butt" stroke-linejoin="round"/>
<rect x="298.1" y="414.4" width="10.4" height="12.4" fill="none" stroke="#3c2a1e" stroke-width="1.2"/>
<line x1="452" y1="111.6" x2="452" y2="124" stroke="#2b2b2b" stroke-width="1.3"/>
<rect x="446.8" y="123.8" width="10.4" height="12.4" fill="#f6d4b8" stroke="none" stroke-width="0"/>
<polygon points="446.8,136.2 457.2,136.2 457.2,132.4 452,128.4 446.8,132.4" fill="#f2caa6"/>
<polyline points="447.4,132.4 452,128.4 456.6,132.4" fill="none" stroke="#7a4a2c" stroke-width="1.7" stroke-linejoin="miter" stroke-linecap="butt" stroke-linejoin="round"/>
<rect x="446.8" y="123.8" width="10.4" height="12.4" fill="none" stroke="#3c2a1e" stroke-width="1.2"/>
<line x1="452" y1="136" x2="452" y2="152" stroke="#2b2b2b" stroke-width="1.3"/>
<line x1="427.5" y1="152" x2="478.7" y2="152" stroke="#2b2b2b" stroke-width="1.3"/>
<circle cx="452" cy="152" r="1.9" fill="#222"/>
<line x1="427.5" y1="152" x2="427.5" y2="159" stroke="#2b2b2b" stroke-width="1.3"/>
<rect x="424.5" y="159" width="6.2" height="17.2" fill="#fff" stroke="#333" stroke-width="1.1"/>
<line x1="427.6" y1="160.5" x2="427.6" y2="174.7" stroke="#777" stroke-width="0.7"/>
<line x1="478.7" y1="152" x2="478.7" y2="159" stroke="#2b2b2b" stroke-width="1.3"/>
<rect x="475.6" y="159" width="6.2" height="17.2" fill="#fff" stroke="#333" stroke-width="1.1"/>
<line x1="478.7" y1="160.5" x2="478.7" y2="174.7" stroke="#777" stroke-width="0.7"/>
<line x1="427.5" y1="176" x2="427.5" y2="189" stroke="#2b2b2b" stroke-width="1.3"/>
<line x1="478.7" y1="176" x2="478.7" y2="189" stroke="#2b2b2b" stroke-width="1.3"/>
<rect x="422.4" y="188.6" width="10.4" height="12.4" fill="#f6d4b8" stroke="none" stroke-width="0"/>
<polygon points="422.4,188.6 432.8,188.6 432.8,192.4 427.6,196.4 422.4,192.4" fill="#f2caa6"/>
<polyline points="423,192.4 427.6,196.4 432.2,192.4" fill="none" stroke="#7a4a2c" stroke-width="1.7" stroke-linejoin="miter" stroke-linecap="butt" stroke-linejoin="round"/>
<rect x="422.4" y="188.6" width="10.4" height="12.4" fill="none" stroke="#3c2a1e" stroke-width="1.2"/>
<rect x="473.4" y="188.6" width="10.4" height="12.4" fill="#f6d4b8" stroke="none" stroke-width="0"/>
<polygon points="473.4,188.6 483.8,188.6 483.8,192.4 478.6,196.4 473.4,192.4" fill="#f2caa6"/>
<polyline points="474,192.4 478.6,196.4 483.2,192.4" fill="none" stroke="#7a4a2c" stroke-width="1.7" stroke-linejoin="miter" stroke-linecap="butt" stroke-linejoin="round"/>
<rect x="473.4" y="188.6" width="10.4" height="12.4" fill="none" stroke="#3c2a1e" stroke-width="1.2"/>
<line x1="432.8" y1="200.6" x2="473.4" y2="200.6" stroke="#262626" stroke-width="1.25" stroke-dasharray="3.2,2.2"/>
<rect x="422.4" y="218.4" width="10.4" height="12.4" fill="#f6d4b8" stroke="none" stroke-width="0"/>
<polygon points="422.4,230.8 432.8,230.8 432.8,227 427.6,223 422.4,227" fill="#f2caa6"/>
<polyline points="423,227 427.6,223 432.2,227" fill="none" stroke="#7a4a2c" stroke-width="1.7" stroke-linejoin="miter" stroke-linecap="butt" stroke-linejoin="round"/>
<rect x="422.4" y="218.4" width="10.4" height="12.4" fill="none" stroke="#3c2a1e" stroke-width="1.2"/>
<rect x="422.4" y="247.6" width="10.4" height="12.4" fill="#f6d4b8" stroke="none" stroke-width="0"/>
<polygon points="422.4,260 432.8,260 432.8,256.2 427.6,252.2 422.4,256.2" fill="#f2caa6"/>
<polyline points="423,256.2 427.6,252.2 432.2,256.2" fill="none" stroke="#7a4a2c" stroke-width="1.7" stroke-linejoin="miter" stroke-linecap="butt" stroke-linejoin="round"/>
<rect x="422.4" y="247.6" width="10.4" height="12.4" fill="none" stroke="#3c2a1e" stroke-width="1.2"/>
<rect x="422.4" y="275.8" width="10.4" height="12.4" fill="#f6d4b8" stroke="none" stroke-width="0"/>
<polygon points="422.4,288.2 432.8,288.2 432.8,284.4 427.6,280.4 422.4,284.4" fill="#f2caa6"/>
<polyline points="423,284.4 427.6,280.4 432.2,284.4" fill="none" stroke="#7a4a2c" stroke-width="1.7" stroke-linejoin="miter" stroke-linecap="butt" stroke-linejoin="round"/>
<rect x="422.4" y="275.8" width="10.4" height="12.4" fill="none" stroke="#3c2a1e" stroke-width="1.2"/>
<rect x="407" y="288.8" width="35.2" height="21.8" fill="#d8dbe1" stroke="#2e2e2e" stroke-width="1.35" stroke-dasharray="3.4,2.3"/>
<line x1="427.6" y1="288.8" x2="427.6" y2="294.8" stroke="#333" stroke-width="1.2"/>
<line x1="427.6" y1="293.8" x2="421.6" y2="304.8" stroke="#333" stroke-width="1.3"/>
<line x1="427.6" y1="303.6" x2="427.6" y2="310.6" stroke="#333" stroke-width="1.2"/>
<line x1="414.6" y1="297.3" x2="414.6" y2="303.6" stroke="#2a2a2a" stroke-width="1.4"/>
<line x1="414.6" y1="300.6" x2="419.6" y2="300.6" stroke="#2a2a2a" stroke-width="1.2"/>
<rect x="422.4" y="310.8" width="10.4" height="12.4" fill="#f6d4b8" stroke="none" stroke-width="0"/>
<polygon points="422.4,310.8 432.8,310.8 432.8,314.6 427.6,318.6 422.4,314.6" fill="#f2caa6"/>
<polyline points="423,314.6 427.6,318.6 432.2,314.6" fill="none" stroke="#7a4a2c" stroke-width="1.7" stroke-linejoin="miter" stroke-linecap="butt" stroke-linejoin="round"/>
<rect x="422.4" y="310.8" width="10.4" height="12.4" fill="none" stroke="#3c2a1e" stroke-width="1.2"/>
<rect x="422.4" y="367.8" width="10.4" height="12.4" fill="#f6d4b8" stroke="none" stroke-width="0"/>
<polygon points="422.4,367.8 432.8,367.8 432.8,371.6 427.6,375.6 422.4,371.6" fill="#f2caa6"/>
<polyline points="423,371.6 427.6,375.6 432.2,371.6" fill="none" stroke="#7a4a2c" stroke-width="1.7" stroke-linejoin="miter" stroke-linecap="butt" stroke-linejoin="round"/>
<rect x="422.4" y="367.8" width="10.4" height="12.4" fill="none" stroke="#3c2a1e" stroke-width="1.2"/>
<rect x="473.4" y="229.8" width="10.4" height="12.4" fill="#f6d4b8" stroke="none" stroke-width="0"/>
<polygon points="473.4,242.2 483.8,242.2 483.8,238.4 478.6,234.4 473.4,238.4" fill="#f2caa6"/>
<polyline points="474,238.4 478.6,234.4 483.2,238.4" fill="none" stroke="#7a4a2c" stroke-width="1.7" stroke-linejoin="miter" stroke-linecap="butt" stroke-linejoin="round"/>
<rect x="473.4" y="229.8" width="10.4" height="12.4" fill="none" stroke="#3c2a1e" stroke-width="1.2"/>
<rect x="473.4" y="275.8" width="10.4" height="12.4" fill="#f6d4b8" stroke="none" stroke-width="0"/>
<polygon points="473.4,288.2 483.8,288.2 483.8,284.4 478.6,280.4 473.4,284.4" fill="#f2caa6"/>
<polyline points="474,284.4 478.6,280.4 483.2,284.4" fill="none" stroke="#7a4a2c" stroke-width="1.7" stroke-linejoin="miter" stroke-linecap="butt" stroke-linejoin="round"/>
<rect x="473.4" y="275.8" width="10.4" height="12.4" fill="none" stroke="#3c2a1e" stroke-width="1.2"/>
<rect x="457.6" y="288.8" width="35" height="21.8" fill="#d8dbe1" stroke="#2e2e2e" stroke-width="1.35" stroke-dasharray="3.4,2.3"/>
<line x1="478.6" y1="288.8" x2="478.6" y2="294.8" stroke="#333" stroke-width="1.2"/>
<line x1="478.6" y1="293.8" x2="472.6" y2="304.8" stroke="#333" stroke-width="1.3"/>
<line x1="478.6" y1="303.6" x2="478.6" y2="310.6" stroke="#333" stroke-width="1.2"/>
<line x1="465.6" y1="297.3" x2="465.6" y2="303.6" stroke="#2a2a2a" stroke-width="1.4"/>
<line x1="465.6" y1="300.6" x2="470.6" y2="300.6" stroke="#2a2a2a" stroke-width="1.2"/>
<rect x="473.4" y="310.8" width="10.4" height="12.4" fill="#f6d4b8" stroke="none" stroke-width="0"/>
<polygon points="473.4,310.8 483.8,310.8 483.8,314.6 478.6,318.6 473.4,314.6" fill="#f2caa6"/>
<polyline points="474,314.6 478.6,318.6 483.2,314.6" fill="none" stroke="#7a4a2c" stroke-width="1.7" stroke-linejoin="miter" stroke-linecap="butt" stroke-linejoin="round"/>
<rect x="473.4" y="310.8" width="10.4" height="12.4" fill="none" stroke="#3c2a1e" stroke-width="1.2"/>
<rect x="473.4" y="353.4" width="10.4" height="12.4" fill="#f6d4b8" stroke="none" stroke-width="0"/>
<polygon points="473.4,353.4 483.8,353.4 483.8,357.2 478.6,361.2 473.4,357.2" fill="#f2caa6"/>
<polyline points="474,357.2 478.6,361.2 483.2,357.2" fill="none" stroke="#7a4a2c" stroke-width="1.7" stroke-linejoin="miter" stroke-linecap="butt" stroke-linejoin="round"/>
<rect x="473.4" y="353.4" width="10.4" height="12.4" fill="none" stroke="#3c2a1e" stroke-width="1.2"/>
<rect x="473.4" y="386.8" width="10.4" height="12.4" fill="#f6d4b8" stroke="none" stroke-width="0"/>
<polygon points="473.4,399.2 483.8,399.2 483.8,395.4 478.6,391.4 473.4,395.4" fill="#f2caa6"/>
<polyline points="474,395.4 478.6,391.4 483.2,395.4" fill="none" stroke="#7a4a2c" stroke-width="1.7" stroke-linejoin="miter" stroke-linecap="butt" stroke-linejoin="round"/>
<rect x="473.4" y="386.8" width="10.4" height="12.4" fill="none" stroke="#3c2a1e" stroke-width="1.2"/>
<rect x="501.6" y="412.2" width="12.4" height="10.4" fill="#f6d4b8" stroke="none" stroke-width="0"/>
<polygon points="501.6,412.2 501.6,422.6 505.4,422.6 509.4,417.4 505.4,412.2" fill="#f2caa6"/>
<polyline points="505.4,412.8 509.4,417.4 505.4,422" fill="none" stroke="#7a4a2c" stroke-width="1.7" stroke-linejoin="miter" stroke-linecap="butt" stroke-linejoin="round"/>
<rect x="501.6" y="412.2" width="12.4" height="10.4" fill="none" stroke="#3c2a1e" stroke-width="1.2"/>
<rect x="567.2" y="355.6" width="24.4" height="25" fill="#d8dbe1" stroke="#2e2e2e" stroke-width="1.35" stroke-dasharray="3.4,2.3"/>
<circle cx="579.3" cy="368.2" r="6.9" fill="#e4e6ee" stroke="#222" stroke-width="1.3"/>
<line x1="574.42" y1="363.32" x2="584.18" y2="373.08" stroke="#222" stroke-width="1.2"/>
<line x1="574.42" y1="373.08" x2="584.18" y2="363.32" stroke="#222" stroke-width="1.2"/>
<rect x="554.8" y="363" width="12.4" height="10.4" fill="#f6d4b8" stroke="none" stroke-width="0"/>
<polygon points="567.2,363 567.2,373.4 563.4,373.4 559.4,368.2 563.4,363" fill="#f2caa6"/>
<polyline points="563.4,363.6 559.4,368.2 563.4,372.8" fill="none" stroke="#7a4a2c" stroke-width="1.7" stroke-linejoin="miter" stroke-linecap="butt" stroke-linejoin="round"/>
<rect x="554.8" y="363" width="12.4" height="10.4" fill="none" stroke="#3c2a1e" stroke-width="1.2"/>
<rect x="591.4" y="363" width="12.4" height="10.4" fill="#f6d4b8" stroke="none" stroke-width="0"/>
<polygon points="591.4,363 591.4,373.4 595.2,373.4 599.2,368.2 595.2,363" fill="#f2caa6"/>
<polyline points="595.2,363.6 599.2,368.2 595.2,372.8" fill="none" stroke="#7a4a2c" stroke-width="1.7" stroke-linejoin="miter" stroke-linecap="butt" stroke-linejoin="round"/>
<rect x="591.4" y="363" width="12.4" height="10.4" fill="none" stroke="#3c2a1e" stroke-width="1.2"/>
<rect x="567.2" y="404.6" width="24.4" height="25" fill="#d8dbe1" stroke="#2e2e2e" stroke-width="1.35" stroke-dasharray="3.4,2.3"/>
<circle cx="579.3" cy="417.2" r="6.9" fill="#e4e6ee" stroke="#222" stroke-width="1.3"/>
<line x1="574.42" y1="412.32" x2="584.18" y2="422.08" stroke="#222" stroke-width="1.2"/>
<line x1="574.42" y1="422.08" x2="584.18" y2="412.32" stroke="#222" stroke-width="1.2"/>
<rect x="554.8" y="412" width="12.4" height="10.4" fill="#f6d4b8" stroke="none" stroke-width="0"/>
<polygon points="567.2,412 567.2,422.4 563.4,422.4 559.4,417.2 563.4,412" fill="#f2caa6"/>
<polyline points="563.4,412.6 559.4,417.2 563.4,421.8" fill="none" stroke="#7a4a2c" stroke-width="1.7" stroke-linejoin="miter" stroke-linecap="butt" stroke-linejoin="round"/>
<rect x="554.8" y="412" width="12.4" height="10.4" fill="none" stroke="#3c2a1e" stroke-width="1.2"/>
<rect x="591.4" y="412" width="12.4" height="10.4" fill="#f6d4b8" stroke="none" stroke-width="0"/>
<polygon points="591.4,412 591.4,422.4 595.2,422.4 599.2,417.2 595.2,412" fill="#f2caa6"/>
<polyline points="595.2,412.6 599.2,417.2 595.2,421.8" fill="none" stroke="#7a4a2c" stroke-width="1.7" stroke-linejoin="miter" stroke-linecap="butt" stroke-linejoin="round"/>
<rect x="591.4" y="412" width="12.4" height="10.4" fill="none" stroke="#3c2a1e" stroke-width="1.2"/>
<line x1="57.5" y1="521.3" x2="630" y2="521.3" stroke="#2b2b2b" stroke-width="1.4"/>
<line x1="57.5" y1="533.3" x2="630" y2="533.3" stroke="#2b2b2b" stroke-width="1.4"/>
<line x1="57.5" y1="546" x2="630" y2="546" stroke="#2b2b2b" stroke-width="1.4"/>
<line x1="57.4" y1="967.6" x2="630.4" y2="967.6" stroke="#3a3a3a" stroke-width="1.5"/>
<rect x="655.5" y="516.2" width="23.3" height="10.2" fill="#fff" stroke="#444" stroke-width="1"/>
<rect x="655.5" y="528.6" width="23.3" height="9.8" fill="#fff" stroke="#444" stroke-width="1"/>
<rect x="655.5" y="540.8" width="23.3" height="10" fill="#fff" stroke="#444" stroke-width="1"/>
<rect x="654" y="962.4" width="23.6" height="9.8" fill="#fff" stroke="#444" stroke-width="1"/>
<line x1="96.3" y1="548.7" x2="96.3" y2="555" stroke="#2b2b2b" stroke-width="1.3"/>
<rect x="93" y="555" width="6.8" height="17.6" fill="#fff" stroke="#333" stroke-width="1.1"/>
<line x1="96.4" y1="556.5" x2="96.4" y2="571.1" stroke="#777" stroke-width="0.7"/>
<line x1="96.3" y1="572.6" x2="96.3" y2="583" stroke="#2b2b2b" stroke-width="1.3"/>
<rect x="91.1" y="583.1" width="10.4" height="12.4" fill="#f6d4b8" stroke="none" stroke-width="0"/>
<polygon points="91.1,583.1 101.5,583.1 101.5,586.9 96.3,590.9 91.1,586.9" fill="#f2caa6"/>
<polyline points="91.7,586.9 96.3,590.9 100.9,586.9" fill="none" stroke="#7a4a2c" stroke-width="1.7" stroke-linejoin="miter" stroke-linecap="butt" stroke-linejoin="round"/>
<rect x="91.1" y="583.1" width="10.4" height="12.4" fill="none" stroke="#3c2a1e" stroke-width="1.2"/>
<rect x="91.1" y="616.4" width="10.4" height="12.4" fill="#f6d4b8" stroke="none" stroke-width="0"/>
<polygon points="91.1,616.4 101.5,616.4 101.5,620.2 96.3,624.2 91.1,620.2" fill="#f2caa6"/>
<polyline points="91.7,620.2 96.3,624.2 100.9,620.2" fill="none" stroke="#7a4a2c" stroke-width="1.7" stroke-linejoin="miter" stroke-linecap="butt" stroke-linejoin="round"/>
<rect x="91.1" y="616.4" width="10.4" height="12.4" fill="none" stroke="#3c2a1e" stroke-width="1.2"/>
<rect x="91.1" y="652.5" width="10.4" height="12.4" fill="#f6d4b8" stroke="none" stroke-width="0"/>
<polygon points="91.1,664.9 101.5,664.9 101.5,661.1 96.3,657.1 91.1,661.1" fill="#f2caa6"/>
<polyline points="91.7,661.1 96.3,657.1 100.9,661.1" fill="none" stroke="#7a4a2c" stroke-width="1.7" stroke-linejoin="miter" stroke-linecap="butt" stroke-linejoin="round"/>
<rect x="91.1" y="652.5" width="10.4" height="12.4" fill="none" stroke="#3c2a1e" stroke-width="1.2"/>
<rect x="86.3" y="665" width="20" height="16.3" fill="#d8dbe1" stroke="#2e2e2e" stroke-width="1.35" stroke-dasharray="3.4,2.3"/>
<line x1="96.3" y1="665" x2="96.3" y2="681.3" stroke="#333" stroke-width="1.1"/>
<circle cx="96.3" cy="673.2" r="2.1" fill="#222"/>
<rect x="91.1" y="681.3" width="10.4" height="12.4" fill="#f6d4b8" stroke="none" stroke-width="0"/>
<polygon points="91.1,681.3 101.5,681.3 101.5,685.1 96.3,689.1 91.1,685.1" fill="#f2caa6"/>
<polyline points="91.7,685.1 96.3,689.1 100.9,685.1" fill="none" stroke="#7a4a2c" stroke-width="1.7" stroke-linejoin="miter" stroke-linecap="butt" stroke-linejoin="round"/>
<rect x="91.1" y="681.3" width="10.4" height="12.4" fill="none" stroke="#3c2a1e" stroke-width="1.2"/>
<rect x="91.3" y="715.9" width="10.4" height="12.4" fill="#f6d4b8" stroke="none" stroke-width="0"/>
<polygon points="91.3,728.3 101.7,728.3 101.7,724.5 96.5,720.5 91.3,724.5" fill="#f2caa6"/>
<polyline points="91.9,724.5 96.5,720.5 101.1,724.5" fill="none" stroke="#7a4a2c" stroke-width="1.7" stroke-linejoin="miter" stroke-linecap="butt" stroke-linejoin="round"/>
<rect x="91.3" y="715.9" width="10.4" height="12.4" fill="none" stroke="#3c2a1e" stroke-width="1.2"/>
<line x1="147.5" y1="536" x2="147.5" y2="559.5" stroke="#2b2b2b" stroke-width="1.3"/>
<rect x="142.1" y="559.6" width="10.4" height="12.4" fill="#f6d4b8" stroke="none" stroke-width="0"/>
<polygon points="142.1,572 152.5,572 152.5,568.2 147.3,564.2 142.1,568.2" fill="#f2caa6"/>
<polyline points="142.7,568.2 147.3,564.2 151.9,568.2" fill="none" stroke="#7a4a2c" stroke-width="1.7" stroke-linejoin="miter" stroke-linecap="butt" stroke-linejoin="round"/>
<rect x="142.1" y="559.6" width="10.4" height="12.4" fill="none" stroke="#3c2a1e" stroke-width="1.2"/>
<line x1="147.5" y1="572" x2="147.5" y2="583" stroke="#2b2b2b" stroke-width="1.3"/>
<rect x="144.6" y="583" width="5.8" height="17.5" fill="#fff" stroke="#333" stroke-width="1.1"/>
<line x1="147.5" y1="584.5" x2="147.5" y2="599" stroke="#777" stroke-width="0.7"/>
<line x1="147.5" y1="600.5" x2="147.5" y2="612.5" stroke="#2b2b2b" stroke-width="1.3"/>
<rect x="142.1" y="612.4" width="10.4" height="12.4" fill="#f6d4b8" stroke="none" stroke-width="0"/>
<polygon points="142.1,612.4 152.5,612.4 152.5,616.2 147.3,620.2 142.1,616.2" fill="#f2caa6"/>
<polyline points="142.7,616.2 147.3,620.2 151.9,616.2" fill="none" stroke="#7a4a2c" stroke-width="1.7" stroke-linejoin="miter" stroke-linecap="butt" stroke-linejoin="round"/>
<rect x="142.1" y="612.4" width="10.4" height="12.4" fill="none" stroke="#3c2a1e" stroke-width="1.2"/>
<rect x="142.3" y="715.9" width="10.4" height="12.4" fill="#f6d4b8" stroke="none" stroke-width="0"/>
<polygon points="142.3,728.3 152.7,728.3 152.7,724.5 147.5,720.5 142.3,724.5" fill="#f2caa6"/>
<polyline points="142.9,724.5 147.5,720.5 152.1,724.5" fill="none" stroke="#7a4a2c" stroke-width="1.7" stroke-linejoin="miter" stroke-linecap="butt" stroke-linejoin="round"/>
<rect x="142.3" y="715.9" width="10.4" height="12.4" fill="none" stroke="#3c2a1e" stroke-width="1.2"/>
<line x1="256.3" y1="524" x2="256.3" y2="555.5" stroke="#2b2b2b" stroke-width="1.3"/>
<rect x="252.5" y="555.5" width="7" height="17.1" fill="#fff" stroke="#333" stroke-width="1.1"/>
<line x1="256" y1="557" x2="256" y2="571.1" stroke="#777" stroke-width="0.7"/>
<line x1="256.3" y1="572.6" x2="256.3" y2="583.6" stroke="#2b2b2b" stroke-width="1.3"/>
<rect x="251.1" y="583.4" width="10.4" height="12.4" fill="#f6d4b8" stroke="none" stroke-width="0"/>
<polygon points="251.1,583.4 261.5,583.4 261.5,587.2 256.3,591.2 251.1,587.2" fill="#f2caa6"/>
<polyline points="251.7,587.2 256.3,591.2 260.9,587.2" fill="none" stroke="#7a4a2c" stroke-width="1.7" stroke-linejoin="miter" stroke-linecap="butt" stroke-linejoin="round"/>
<rect x="251.1" y="583.4" width="10.4" height="12.4" fill="none" stroke="#3c2a1e" stroke-width="1.2"/>
<line x1="256.3" y1="607.5" x2="256.3" y2="624" stroke="#b09ab8" stroke-width="4.2"/>
<line x1="256.3" y1="614" x2="256.3" y2="617" stroke="#c07888" stroke-width="4.2"/>
<rect x="251.1" y="633.8" width="10.4" height="12.4" fill="#f6d4b8" stroke="none" stroke-width="0"/>
<polygon points="251.1,633.8 261.5,633.8 261.5,637.6 256.3,641.6 251.1,637.6" fill="#f2caa6"/>
<polyline points="251.7,637.6 256.3,641.6 260.9,637.6" fill="none" stroke="#7a4a2c" stroke-width="1.7" stroke-linejoin="miter" stroke-linecap="butt" stroke-linejoin="round"/>
<rect x="251.1" y="633.8" width="10.4" height="12.4" fill="none" stroke="#3c2a1e" stroke-width="1.2"/>
<rect x="192.6" y="586.8" width="10.4" height="12.4" fill="#f6d4b8" stroke="none" stroke-width="0"/>
<polygon points="192.6,599.2 203,599.2 203,595.4 197.8,591.4 192.6,595.4" fill="#f2caa6"/>
<polyline points="193.2,595.4 197.8,591.4 202.4,595.4" fill="none" stroke="#7a4a2c" stroke-width="1.7" stroke-linejoin="miter" stroke-linecap="butt" stroke-linejoin="round"/>
<rect x="192.6" y="586.8" width="10.4" height="12.4" fill="none" stroke="#3c2a1e" stroke-width="1.2"/>
<line x1="197.6" y1="599" x2="197.6" y2="610" stroke="#2b2b2b" stroke-width="1.3"/>
<rect x="195.45" y="610" width="6.5" height="17" fill="#fff" stroke="#333" stroke-width="1.1"/>
<line x1="198.7" y1="611.5" x2="198.7" y2="625.5" stroke="#777" stroke-width="0.7"/>
<line x1="197.6" y1="627" x2="197.6" y2="638.8" stroke="#2b2b2b" stroke-width="1.3"/>
<rect x="192.6" y="638.8" width="10.4" height="12.4" fill="#f6d4b8" stroke="none" stroke-width="0"/>
<polygon points="192.6,638.8 203,638.8 203,642.6 197.8,646.6 192.6,642.6" fill="#f2caa6"/>
<polyline points="193.2,642.6 197.8,646.6 202.4,642.6" fill="none" stroke="#7a4a2c" stroke-width="1.7" stroke-linejoin="miter" stroke-linecap="butt" stroke-linejoin="round"/>
<rect x="192.6" y="638.8" width="10.4" height="12.4" fill="none" stroke="#3c2a1e" stroke-width="1.2"/>
<rect x="193.5" y="715.9" width="10.4" height="12.4" fill="#f6d4b8" stroke="none" stroke-width="0"/>
<polygon points="193.5,728.3 203.9,728.3 203.9,724.5 198.7,720.5 193.5,724.5" fill="#f2caa6"/>
<polyline points="194.1,724.5 198.7,720.5 203.3,724.5" fill="none" stroke="#7a4a2c" stroke-width="1.7" stroke-linejoin="miter" stroke-linecap="butt" stroke-linejoin="round"/>
<rect x="193.5" y="715.9" width="10.4" height="12.4" fill="none" stroke="#3c2a1e" stroke-width="1.2"/>
<rect x="85" y="728" width="146" height="52" fill="#d8dbe1" stroke="#2e2e2e" stroke-width="1.35" stroke-dasharray="3.4,2.3"/>
<polyline points="96.5,728 96.5,737.6 114.6,737.6 114.6,746" fill="none" stroke="#333" stroke-width="1.2" stroke-linejoin="miter" stroke-linecap="butt"/>
<circle cx="114.6" cy="753" r="7.2" fill="#e4e6ee" stroke="#222" stroke-width="1.3"/>
<line x1="109.51" y1="747.91" x2="119.69" y2="758.09" stroke="#222" stroke-width="1.2"/>
<line x1="109.51" y1="758.09" x2="119.69" y2="747.91" stroke="#222" stroke-width="1.2"/>
<line x1="114.6" y1="760.2" x2="114.6" y2="780" stroke="#333" stroke-width="1.2"/>
<polyline points="147.3,728 147.3,741.5 154.8,741.5 154.8,766.2" fill="none" stroke="#333" stroke-width="1.3" stroke-linejoin="miter" stroke-linecap="butt"/>
<polyline points="147.3,780 147.3,766.2 168.8,766.2" fill="none" stroke="#333" stroke-width="1.3" stroke-linejoin="miter" stroke-linecap="butt"/>
<polyline points="168.8,741.5 198.3,741.5 198.3,728" fill="none" stroke="#333" stroke-width="1.3" stroke-linejoin="miter" stroke-linecap="butt"/>
<line x1="149.3" y1="743" x2="149.3" y2="765" stroke="#333" stroke-width="1" stroke-dasharray="2.5,2"/>
<line x1="168.8" y1="741.5" x2="168.8" y2="766.2" stroke="#333" stroke-width="1" stroke-dasharray="2.5,2"/>
<line x1="142.5" y1="754.3" x2="208.5" y2="754.3" stroke="#333" stroke-width="1" stroke-dasharray="3,2"/>
<polyline points="132,750.5 132,757.5" fill="none" stroke="#333" stroke-width="1.1" stroke-linejoin="miter" stroke-linecap="butt"/>
<polyline points="132,754.3 136.5,754.3 138.3,750 140.5,754.3 142.5,754.3" fill="none" stroke="#333" stroke-width="1.1" stroke-linejoin="miter" stroke-linecap="butt"/>
<circle cx="154.8" cy="741.5" r="2" fill="#222"/>
<circle cx="168.8" cy="741.5" r="2" fill="#222"/>
<circle cx="154.8" cy="766.2" r="2" fill="#222"/>
<circle cx="168.8" cy="766.2" r="2" fill="#222"/>
<line x1="208.8" y1="736.2" x2="208.8" y2="772.2" stroke="#333" stroke-width="1.2"/>
<line x1="214.8" y1="736.2" x2="214.8" y2="773" stroke="#333" stroke-width="1" stroke-dasharray="2.5,2"/>
<line x1="214.8" y1="736.4" x2="231" y2="736.4" stroke="#333" stroke-width="1.2"/>
<circle cx="214.8" cy="736.4" r="2" fill="#222"/>
<line x1="214.8" y1="758" x2="231" y2="758" stroke="#333" stroke-width="1.2"/>
<circle cx="214.8" cy="758" r="2" fill="#222"/>
<line x1="214.8" y1="773" x2="231" y2="773" stroke="#333" stroke-width="1.2"/>
<circle cx="214.8" cy="773" r="2" fill="#222"/>
<rect x="231.3" y="731.4" width="12.4" height="10.4" fill="#f6d4b8" stroke="none" stroke-width="0"/>
<polygon points="231.3,731.4 231.3,741.8 235.1,741.8 239.1,736.6 235.1,731.4" fill="#f2caa6"/>
<polyline points="235.1,732 239.1,736.6 235.1,741.2" fill="none" stroke="#7a4a2c" stroke-width="1.7" stroke-linejoin="miter" stroke-linecap="butt" stroke-linejoin="round"/>
<rect x="231.3" y="731.4" width="12.4" height="10.4" fill="none" stroke="#3c2a1e" stroke-width="1.2"/>
<rect x="231.3" y="752.6" width="12.4" height="10.4" fill="#f6d4b8" stroke="none" stroke-width="0"/>
<polygon points="231.3,752.6 231.3,763 235.1,763 239.1,757.8 235.1,752.6" fill="#f2caa6"/>
<polyline points="235.1,753.2 239.1,757.8 235.1,762.4" fill="none" stroke="#7a4a2c" stroke-width="1.7" stroke-linejoin="miter" stroke-linecap="butt" stroke-linejoin="round"/>
<rect x="231.3" y="752.6" width="12.4" height="10.4" fill="none" stroke="#3c2a1e" stroke-width="1.2"/>
<rect x="231.3" y="767.7" width="12.4" height="10.4" fill="#f6d4b8" stroke="none" stroke-width="0"/>
<polygon points="231.3,767.7 231.3,778.1 235.1,778.1 239.1,772.9 235.1,767.7" fill="#f2caa6"/>
<polyline points="235.1,768.3 239.1,772.9 235.1,777.5" fill="none" stroke="#7a4a2c" stroke-width="1.7" stroke-linejoin="miter" stroke-linecap="butt" stroke-linejoin="round"/>
<rect x="231.3" y="767.7" width="12.4" height="10.4" fill="none" stroke="#3c2a1e" stroke-width="1.2"/>
<rect x="109.8" y="779.9" width="10.4" height="12.4" fill="#f6d4b8" stroke="none" stroke-width="0"/>
<polygon points="109.8,779.9 120.2,779.9 120.2,783.7 115,787.7 109.8,783.7" fill="#f2caa6"/>
<polyline points="110.4,783.7 115,787.7 119.6,783.7" fill="none" stroke="#7a4a2c" stroke-width="1.7" stroke-linejoin="miter" stroke-linecap="butt" stroke-linejoin="round"/>
<rect x="109.8" y="779.9" width="10.4" height="12.4" fill="none" stroke="#3c2a1e" stroke-width="1.2"/>
<rect x="142.2" y="779.9" width="10.4" height="12.4" fill="#f6d4b8" stroke="none" stroke-width="0"/>
<polygon points="142.2,779.9 152.6,779.9 152.6,783.7 147.4,787.7 142.2,783.7" fill="#f2caa6"/>
<polyline points="142.8,783.7 147.4,787.7 152,783.7" fill="none" stroke="#7a4a2c" stroke-width="1.7" stroke-linejoin="miter" stroke-linecap="butt" stroke-linejoin="round"/>
<rect x="142.2" y="779.9" width="10.4" height="12.4" fill="none" stroke="#3c2a1e" stroke-width="1.2"/>
<rect x="193.5" y="779.9" width="10.4" height="12.4" fill="#f6d4b8" stroke="none" stroke-width="0"/>
<polygon points="193.5,779.9 203.9,779.9 203.9,783.7 198.7,787.7 193.5,783.7" fill="#f2caa6"/>
<polyline points="194.1,783.7 198.7,787.7 203.3,783.7" fill="none" stroke="#7a4a2c" stroke-width="1.7" stroke-linejoin="miter" stroke-linecap="butt" stroke-linejoin="round"/>
<rect x="193.5" y="779.9" width="10.4" height="12.4" fill="none" stroke="#3c2a1e" stroke-width="1.2"/>
<rect x="109.4" y="827.4" width="10.4" height="12.4" fill="#f6d4b8" stroke="none" stroke-width="0"/>
<polygon points="109.4,839.8 119.8,839.8 119.8,836 114.6,832 109.4,836" fill="#f2caa6"/>
<polyline points="110,836 114.6,832 119.2,836" fill="none" stroke="#7a4a2c" stroke-width="1.7" stroke-linejoin="miter" stroke-linecap="butt" stroke-linejoin="round"/>
<rect x="109.4" y="827.4" width="10.4" height="12.4" fill="none" stroke="#3c2a1e" stroke-width="1.2"/>
<rect x="67.5" y="839.6" width="57.9" height="19.8" fill="#d8dbe1" stroke="#2e2e2e" stroke-width="1.35" stroke-dasharray="3.4,2.3"/>
<line x1="78.2" y1="849.5" x2="114.3" y2="849.5" stroke="#333" stroke-width="2"/>
<circle cx="78.2" cy="849.5" r="2.1" fill="#222"/>
<circle cx="114.3" cy="849.5" r="2.1" fill="#222"/>
<line x1="114.3" y1="839.6" x2="114.3" y2="859.4" stroke="#333" stroke-width="1.1"/>
<line x1="78.2" y1="849.5" x2="78.2" y2="859.4" stroke="#333" stroke-width="1.1"/>
<rect x="73.3" y="859.5" width="10.4" height="12.4" fill="#f6d4b8" stroke="none" stroke-width="0"/>
<polygon points="73.3,859.5 83.7,859.5 83.7,863.3 78.5,867.3 73.3,863.3" fill="#f2caa6"/>
<polyline points="73.9,863.3 78.5,867.3 83.1,863.3" fill="none" stroke="#7a4a2c" stroke-width="1.7" stroke-linejoin="miter" stroke-linecap="butt" stroke-linejoin="round"/>
<rect x="73.3" y="859.5" width="10.4" height="12.4" fill="none" stroke="#3c2a1e" stroke-width="1.2"/>
<rect x="109.1" y="859.5" width="10.4" height="12.4" fill="#f6d4b8" stroke="none" stroke-width="0"/>
<polygon points="109.1,859.5 119.5,859.5 119.5,863.3 114.3,867.3 109.1,863.3" fill="#f2caa6"/>
<polyline points="109.7,863.3 114.3,867.3 118.9,863.3" fill="none" stroke="#7a4a2c" stroke-width="1.7" stroke-linejoin="miter" stroke-linecap="butt" stroke-linejoin="round"/>
<rect x="109.1" y="859.5" width="10.4" height="12.4" fill="none" stroke="#3c2a1e" stroke-width="1.2"/>
<polygon points="73.1,911 84.9,911 79,920.8" fill="#1e1e1e"/>
<rect x="141.8" y="853.8" width="10.4" height="12.4" fill="#f6d4b8" stroke="none" stroke-width="0"/>
<polygon points="141.8,866.2 152.2,866.2 152.2,862.4 147,858.4 141.8,862.4" fill="#f2caa6"/>
<polyline points="142.4,862.4 147,858.4 151.6,862.4" fill="none" stroke="#7a4a2c" stroke-width="1.7" stroke-linejoin="miter" stroke-linecap="butt" stroke-linejoin="round"/>
<rect x="141.8" y="853.8" width="10.4" height="12.4" fill="none" stroke="#3c2a1e" stroke-width="1.2"/>
<rect x="137.6" y="866" width="36.8" height="30.4" fill="#d8dbe1" stroke="#2e2e2e" stroke-width="1.35" stroke-dasharray="3.4,2.3"/>
<circle cx="157.8" cy="881" r="8.7" fill="#e8eaf0" stroke="#1e1e1e" stroke-width="1.3"/>
<line x1="153.4" y1="874" x2="153.4" y2="888" stroke="#1e1e1e" stroke-width="1.6"/>
<line x1="153.4" y1="877.8" x2="161.2" y2="873.2" stroke="#1e1e1e" stroke-width="1.3"/>
<line x1="153.4" y1="884.2" x2="161.2" y2="888.8" stroke="#1e1e1e" stroke-width="1.3"/>
<line x1="149.2" y1="881" x2="153.4" y2="881" stroke="#1e1e1e" stroke-width="1.1"/>
<rect x="174" y="875.5" width="12.4" height="10.4" fill="#f6d4b8" stroke="none" stroke-width="0"/>
<polygon points="174,875.5 174,885.9 177.8,885.9 181.8,880.7 177.8,875.5" fill="#f2caa6"/>
<polyline points="177.8,876.1 181.8,880.7 177.8,885.3" fill="none" stroke="#7a4a2c" stroke-width="1.7" stroke-linejoin="miter" stroke-linecap="butt" stroke-linejoin="round"/>
<rect x="174" y="875.5" width="12.4" height="10.4" fill="none" stroke="#3c2a1e" stroke-width="1.2"/>
<rect x="151.1" y="896.3" width="10.4" height="12.4" fill="#f6d4b8" stroke="none" stroke-width="0"/>
<polygon points="151.1,896.3 161.5,896.3 161.5,900.1 156.3,904.1 151.1,900.1" fill="#f2caa6"/>
<polyline points="151.7,900.1 156.3,904.1 160.9,900.1" fill="none" stroke="#7a4a2c" stroke-width="1.7" stroke-linejoin="miter" stroke-linecap="butt" stroke-linejoin="round"/>
<rect x="151.1" y="896.3" width="10.4" height="12.4" fill="none" stroke="#3c2a1e" stroke-width="1.2"/>
<rect x="170.8" y="940.8" width="12.4" height="10.4" fill="#f6d4b8" stroke="none" stroke-width="0"/>
<polygon points="183.2,940.8 183.2,951.2 179.4,951.2 175.4,946 179.4,940.8" fill="#f2caa6"/>
<polyline points="179.4,941.4 175.4,946 179.4,950.6" fill="none" stroke="#7a4a2c" stroke-width="1.7" stroke-linejoin="miter" stroke-linecap="butt" stroke-linejoin="round"/>
<rect x="170.8" y="940.8" width="12.4" height="10.4" fill="none" stroke="#3c2a1e" stroke-width="1.2"/>
<rect x="196.5" y="940.8" width="12.4" height="10.4" fill="#f6d4b8" stroke="none" stroke-width="0"/>
<polygon points="196.5,940.8 196.5,951.2 200.3,951.2 204.3,946 200.3,940.8" fill="#f2caa6"/>
<polyline points="200.3,941.4 204.3,946 200.3,950.6" fill="none" stroke="#7a4a2c" stroke-width="1.7" stroke-linejoin="miter" stroke-linecap="butt" stroke-linejoin="round"/>
<rect x="196.5" y="940.8" width="12.4" height="10.4" fill="none" stroke="#3c2a1e" stroke-width="1.2"/>
<polygon points="192,818 204.6,818 198.3,829.4" fill="#2a2a2a"/>
<polygon points="301.5,595.5 295.4,603.8 307.6,603.8" fill="#2a2a2a"/>
<rect x="342.5" y="595.5" width="18.8" height="75.8" fill="#d8dbe1" stroke="#2e2e2e" stroke-width="1.35" stroke-dasharray="3.4,2.3"/>
<line x1="352" y1="595.5" x2="352" y2="671.3" stroke="#333" stroke-width="1.2"/>
<circle cx="352" cy="606" r="2.1" fill="#222"/>
<circle cx="352" cy="624.5" r="2.1" fill="#222"/>
<circle cx="352" cy="647.3" r="2.1" fill="#222"/>
<circle cx="352" cy="661" r="2.1" fill="#222"/>
<line x1="342" y1="624.5" x2="352" y2="624.5" stroke="#333" stroke-width="1.2"/>
<line x1="342" y1="647.3" x2="352" y2="647.3" stroke="#333" stroke-width="1.2"/>
<rect x="346.8" y="583" width="10.4" height="12.4" fill="#f6d4b8" stroke="none" stroke-width="0"/>
<polygon points="346.8,595.4 357.2,595.4 357.2,591.6 352,587.6 346.8,591.6" fill="#f2caa6"/>
<polyline points="347.4,591.6 352,587.6 356.6,591.6" fill="none" stroke="#7a4a2c" stroke-width="1.7" stroke-linejoin="miter" stroke-linecap="butt" stroke-linejoin="round"/>
<rect x="346.8" y="583" width="10.4" height="12.4" fill="none" stroke="#3c2a1e" stroke-width="1.2"/>
<rect x="329.9" y="619.3" width="12.4" height="10.4" fill="#f6d4b8" stroke="none" stroke-width="0"/>
<polygon points="342.3,619.3 342.3,629.7 338.5,629.7 334.5,624.5 338.5,619.3" fill="#f2caa6"/>
<polyline points="338.5,619.9 334.5,624.5 338.5,629.1" fill="none" stroke="#7a4a2c" stroke-width="1.7" stroke-linejoin="miter" stroke-linecap="butt" stroke-linejoin="round"/>
<rect x="329.9" y="619.3" width="12.4" height="10.4" fill="none" stroke="#3c2a1e" stroke-width="1.2"/>
<rect x="329.9" y="642.1" width="12.4" height="10.4" fill="#f6d4b8" stroke="none" stroke-width="0"/>
<polygon points="342.3,642.1 342.3,652.5 338.5,652.5 334.5,647.3 338.5,642.1" fill="#f2caa6"/>
<polyline points="338.5,642.7 334.5,647.3 338.5,651.9" fill="none" stroke="#7a4a2c" stroke-width="1.7" stroke-linejoin="miter" stroke-linecap="butt" stroke-linejoin="round"/>
<rect x="329.9" y="642.1" width="12.4" height="10.4" fill="none" stroke="#3c2a1e" stroke-width="1.2"/>
<rect x="346.8" y="671.8" width="10.4" height="12.4" fill="#f6d4b8" stroke="none" stroke-width="0"/>
<polygon points="346.8,671.8 357.2,671.8 357.2,675.6 352,679.6 346.8,675.6" fill="#f2caa6"/>
<polyline points="347.4,675.6 352,679.6 356.6,675.6" fill="none" stroke="#7a4a2c" stroke-width="1.7" stroke-linejoin="miter" stroke-linecap="butt" stroke-linejoin="round"/>
<rect x="346.8" y="671.8" width="10.4" height="12.4" fill="none" stroke="#3c2a1e" stroke-width="1.2"/>
<rect x="541.2" y="628.2" width="10.4" height="12.4" fill="#f6d4b8" stroke="none" stroke-width="0"/>
<polygon points="541.2,640.6 551.6,640.6 551.6,636.8 546.4,632.8 541.2,636.8" fill="#f2caa6"/>
<polyline points="541.8,636.8 546.4,632.8 551,636.8" fill="none" stroke="#7a4a2c" stroke-width="1.7" stroke-linejoin="miter" stroke-linecap="butt" stroke-linejoin="round"/>
<rect x="541.2" y="628.2" width="10.4" height="12.4" fill="none" stroke="#3c2a1e" stroke-width="1.2"/>
<rect x="376.3" y="712" width="18.9" height="56.2" fill="#d8dbe1" stroke="#2e2e2e" stroke-width="1.35" stroke-dasharray="3.4,2.3"/>
<line x1="385.6" y1="712" x2="385.6" y2="768.2" stroke="#333" stroke-width="1.2"/>
<circle cx="385.6" cy="721.3" r="2.1" fill="#222"/>
<circle cx="385.6" cy="740.2" r="2.1" fill="#222"/>
<circle cx="385.6" cy="757.8" r="2.1" fill="#222"/>
<line x1="376.3" y1="757.8" x2="385.6" y2="757.8" stroke="#333" stroke-width="1.2"/>
<line x1="385.6" y1="740.2" x2="395.2" y2="740.2" stroke="#333" stroke-width="1.2"/>
<rect x="380.7" y="698.8" width="10.4" height="12.4" fill="#f6d4b8" stroke="none" stroke-width="0"/>
<polygon points="380.7,711.2 391.1,711.2 391.1,707.4 385.9,703.4 380.7,707.4" fill="#f2caa6"/>
<polyline points="381.3,707.4 385.9,703.4 390.5,707.4" fill="none" stroke="#7a4a2c" stroke-width="1.7" stroke-linejoin="miter" stroke-linecap="butt" stroke-linejoin="round"/>
<rect x="380.7" y="698.8" width="10.4" height="12.4" fill="none" stroke="#3c2a1e" stroke-width="1.2"/>
<rect x="364" y="752.6" width="12.4" height="10.4" fill="#f6d4b8" stroke="none" stroke-width="0"/>
<polygon points="376.4,752.6 376.4,763 372.6,763 368.6,757.8 372.6,752.6" fill="#f2caa6"/>
<polyline points="372.6,753.2 368.6,757.8 372.6,762.4" fill="none" stroke="#7a4a2c" stroke-width="1.7" stroke-linejoin="miter" stroke-linecap="butt" stroke-linejoin="round"/>
<rect x="364" y="752.6" width="12.4" height="10.4" fill="none" stroke="#3c2a1e" stroke-width="1.2"/>
<rect x="395.6" y="734.9" width="12.4" height="10.4" fill="#f6d4b8" stroke="none" stroke-width="0"/>
<polygon points="395.6,734.9 395.6,745.3 399.4,745.3 403.4,740.1 399.4,734.9" fill="#f2caa6"/>
<polyline points="399.4,735.5 403.4,740.1 399.4,744.7" fill="none" stroke="#7a4a2c" stroke-width="1.7" stroke-linejoin="miter" stroke-linecap="butt" stroke-linejoin="round"/>
<rect x="395.6" y="734.9" width="12.4" height="10.4" fill="none" stroke="#3c2a1e" stroke-width="1.2"/>
<rect x="380.7" y="768" width="10.4" height="12.4" fill="#f6d4b8" stroke="none" stroke-width="0"/>
<polygon points="380.7,768 391.1,768 391.1,771.8 385.9,775.8 380.7,771.8" fill="#f2caa6"/>
<polyline points="381.3,771.8 385.9,775.8 390.5,771.8" fill="none" stroke="#7a4a2c" stroke-width="1.7" stroke-linejoin="miter" stroke-linecap="butt" stroke-linejoin="round"/>
<rect x="380.7" y="768" width="10.4" height="12.4" fill="none" stroke="#3c2a1e" stroke-width="1.2"/>
<polyline points="407.9,740 419.8,740 419.8,655.5" fill="none" stroke="#333" stroke-width="1.4" stroke-linejoin="miter" stroke-linecap="butt"/>
<polygon points="419.6,646 413.4,655.8 425.8,655.8" fill="#3d3d48"/>
<polyline points="385.9,780.2 385.9,788.8 365.5,788.8 365.5,807" fill="none" stroke="#444" stroke-width="1.5" stroke-linejoin="miter" stroke-linecap="butt"/>
<rect x="321" y="819.6" width="53.4" height="32.4" fill="#d8dbe1" stroke="#2e2e2e" stroke-width="1.35" stroke-dasharray="3.4,2.3"/>
<rect x="326.2" y="806.9" width="10.4" height="12.4" fill="#f6d4b8" stroke="none" stroke-width="0"/>
<polygon points="326.2,819.3 336.6,819.3 336.6,815.5 331.4,811.5 326.2,815.5" fill="#f2caa6"/>
<polyline points="326.8,815.5 331.4,811.5 336,815.5" fill="none" stroke="#7a4a2c" stroke-width="1.7" stroke-linejoin="miter" stroke-linecap="butt" stroke-linejoin="round"/>
<rect x="326.2" y="806.9" width="10.4" height="12.4" fill="none" stroke="#3c2a1e" stroke-width="1.2"/>
<rect x="360.2" y="806.9" width="10.4" height="12.4" fill="#f6d4b8" stroke="none" stroke-width="0"/>
<polygon points="360.2,819.3 370.6,819.3 370.6,815.5 365.4,811.5 360.2,815.5" fill="#f2caa6"/>
<polyline points="360.8,815.5 365.4,811.5 370,815.5" fill="none" stroke="#7a4a2c" stroke-width="1.7" stroke-linejoin="miter" stroke-linecap="butt" stroke-linejoin="round"/>
<rect x="360.2" y="806.9" width="10.4" height="12.4" fill="none" stroke="#3c2a1e" stroke-width="1.2"/>
<rect x="342.2" y="852" width="10.4" height="12.4" fill="#f6d4b8" stroke="none" stroke-width="0"/>
<polygon points="342.2,852 352.6,852 352.6,855.8 347.4,859.8 342.2,855.8" fill="#f2caa6"/>
<polyline points="342.8,855.8 347.4,859.8 352,855.8" fill="none" stroke="#7a4a2c" stroke-width="1.7" stroke-linejoin="miter" stroke-linecap="butt" stroke-linejoin="round"/>
<rect x="342.2" y="852" width="10.4" height="12.4" fill="none" stroke="#3c2a1e" stroke-width="1.2"/>
<polyline points="331.4,819.6 331.4,834 341,834" fill="none" stroke="#333" stroke-width="1.2" stroke-linejoin="miter" stroke-linecap="butt"/>
<polyline points="365.4,819.6 365.4,834 355,834" fill="none" stroke="#333" stroke-width="1.2" stroke-linejoin="miter" stroke-linecap="butt"/>
<line x1="338" y1="827" x2="346.5" y2="843" stroke="#333" stroke-width="1" stroke-dasharray="2,1.6"/>
<line x1="358" y1="827" x2="348.5" y2="843" stroke="#333" stroke-width="1" stroke-dasharray="2,1.6"/>
<line x1="347.4" y1="826" x2="347.4" y2="852" stroke="#333" stroke-width="1.1"/>
<circle cx="347.4" cy="844" r="2" fill="#222"/>
<rect x="286" y="858.4" width="10.4" height="12.4" fill="#f6d4b8" stroke="none" stroke-width="0"/>
<polygon points="286,870.8 296.4,870.8 296.4,867 291.2,863 286,867" fill="#f2caa6"/>
<polyline points="286.6,867 291.2,863 295.8,867" fill="none" stroke="#7a4a2c" stroke-width="1.7" stroke-linejoin="miter" stroke-linecap="butt" stroke-linejoin="round"/>
<rect x="286" y="858.4" width="10.4" height="12.4" fill="none" stroke="#3c2a1e" stroke-width="1.2"/>
<rect x="279" y="870.8" width="24.6" height="19.8" fill="#d8dbe1" stroke="#2e2e2e" stroke-width="1.35" stroke-dasharray="3.4,2.3"/>
<polyline points="291.2,870.8 291.2,880.7" fill="none" stroke="#333" stroke-width="1.2" stroke-linejoin="miter" stroke-linecap="butt"/>
<line x1="278" y1="880.7" x2="304" y2="880.7" stroke="#333" stroke-width="1.2"/>
<circle cx="291.2" cy="880.7" r="2.1" fill="#222"/>
<rect x="266.4" y="875.6" width="12.4" height="10.4" fill="#f6d4b8" stroke="none" stroke-width="0"/>
<polygon points="278.8,875.6 278.8,886 275,886 271,880.8 275,875.6" fill="#f2caa6"/>
<polyline points="275,876.2 271,880.8 275,885.4" fill="none" stroke="#7a4a2c" stroke-width="1.7" stroke-linejoin="miter" stroke-linecap="butt" stroke-linejoin="round"/>
<rect x="266.4" y="875.6" width="12.4" height="10.4" fill="none" stroke="#3c2a1e" stroke-width="1.2"/>
<rect x="303.5" y="875.6" width="12.4" height="10.4" fill="#f6d4b8" stroke="none" stroke-width="0"/>
<polygon points="303.5,875.6 303.5,886 307.3,886 311.3,880.8 307.3,875.6" fill="#f2caa6"/>
<polyline points="307.3,876.2 311.3,880.8 307.3,885.4" fill="none" stroke="#7a4a2c" stroke-width="1.7" stroke-linejoin="miter" stroke-linecap="butt" stroke-linejoin="round"/>
<rect x="303.5" y="875.6" width="12.4" height="10.4" fill="none" stroke="#3c2a1e" stroke-width="1.2"/>
<polygon points="470.5,661 464.3,670.8 476.7,670.8" fill="#48506e"/>
<rect x="507.9" y="627.6" width="10.4" height="12.4" fill="#f6d4b8" stroke="none" stroke-width="0"/>
<polygon points="507.9,640 518.3,640 518.3,636.2 513.1,632.2 507.9,636.2" fill="#f2caa6"/>
<polyline points="508.5,636.2 513.1,632.2 517.7,636.2" fill="none" stroke="#7a4a2c" stroke-width="1.7" stroke-linejoin="miter" stroke-linecap="butt" stroke-linejoin="round"/>
<rect x="507.9" y="627.6" width="10.4" height="12.4" fill="none" stroke="#3c2a1e" stroke-width="1.2"/>
<line x1="518.8" y1="639.6" x2="541.2" y2="639.6" stroke="#262626" stroke-width="1.25" stroke-dasharray="3.2,2.2"/>
<rect x="465.1" y="710.9" width="10.4" height="12.4" fill="#f6d4b8" stroke="none" stroke-width="0"/>
<polygon points="465.1,723.3 475.5,723.3 475.5,719.5 470.3,715.5 465.1,719.5" fill="#f2caa6"/>
<polyline points="465.7,719.5 470.3,715.5 474.9,719.5" fill="none" stroke="#7a4a2c" stroke-width="1.7" stroke-linejoin="miter" stroke-linecap="butt" stroke-linejoin="round"/>
<rect x="465.1" y="710.9" width="10.4" height="12.4" fill="none" stroke="#3c2a1e" stroke-width="1.2"/>
<rect x="507.8" y="710.9" width="10.4" height="12.4" fill="#f6d4b8" stroke="none" stroke-width="0"/>
<polygon points="507.8,723.3 518.2,723.3 518.2,719.5 513,715.5 507.8,719.5" fill="#f2caa6"/>
<polyline points="508.4,719.5 513,715.5 517.6,719.5" fill="none" stroke="#7a4a2c" stroke-width="1.7" stroke-linejoin="miter" stroke-linecap="butt" stroke-linejoin="round"/>
<rect x="507.8" y="710.9" width="10.4" height="12.4" fill="none" stroke="#3c2a1e" stroke-width="1.2"/>
<rect x="460.5" y="723.8" width="63.3" height="18.2" fill="#d8dbe1" stroke="#2e2e2e" stroke-width="1.35" stroke-dasharray="3.4,2.3"/>
<line x1="470.5" y1="732.6" x2="513" y2="732.6" stroke="#333" stroke-width="2"/>
<circle cx="470.5" cy="732.6" r="2.1" fill="#222"/>
<line x1="470.5" y1="723.8" x2="470.5" y2="732.6" stroke="#333" stroke-width="1.1"/>
<circle cx="491.3" cy="732.6" r="2.1" fill="#222"/>
<line x1="491.3" y1="723.8" x2="491.3" y2="742" stroke="#333" stroke-width="1.1"/>
<circle cx="513" cy="732.6" r="2.1" fill="#222"/>
<line x1="513" y1="723.8" x2="513" y2="732.6" stroke="#333" stroke-width="1.1"/>
<rect x="486.1" y="742.3" width="10.4" height="12.4" fill="#f6d4b8" stroke="none" stroke-width="0"/>
<polygon points="486.1,742.3 496.5,742.3 496.5,746.1 491.3,750.1 486.1,746.1" fill="#f2caa6"/>
<polyline points="486.7,746.1 491.3,750.1 495.9,746.1" fill="none" stroke="#7a4a2c" stroke-width="1.7" stroke-linejoin="miter" stroke-linecap="butt" stroke-linejoin="round"/>
<rect x="486.1" y="742.3" width="10.4" height="12.4" fill="none" stroke="#3c2a1e" stroke-width="1.2"/>
<rect x="435.8" y="759.8" width="10.4" height="12.4" fill="#f6d4b8" stroke="none" stroke-width="0"/>
<polygon points="435.8,759.8 446.2,759.8 446.2,763.6 441,767.6 435.8,763.6" fill="#f2caa6"/>
<polyline points="436.4,763.6 441,767.6 445.6,763.6" fill="none" stroke="#7a4a2c" stroke-width="1.7" stroke-linejoin="miter" stroke-linecap="butt" stroke-linejoin="round"/>
<rect x="435.8" y="759.8" width="10.4" height="12.4" fill="none" stroke="#3c2a1e" stroke-width="1.2"/>
<rect x="485" y="780.1" width="10.4" height="12.4" fill="#f6d4b8" stroke="none" stroke-width="0"/>
<polygon points="485,792.5 495.4,792.5 495.4,788.7 490.2,784.7 485,788.7" fill="#f2caa6"/>
<polyline points="485.6,788.7 490.2,784.7 494.8,788.7" fill="none" stroke="#7a4a2c" stroke-width="1.7" stroke-linejoin="miter" stroke-linecap="butt" stroke-linejoin="round"/>
<rect x="485" y="780.1" width="10.4" height="12.4" fill="none" stroke="#3c2a1e" stroke-width="1.2"/>
<rect x="387.1" y="880.5" width="10.4" height="12.4" fill="#f6d4b8" stroke="none" stroke-width="0"/>
<polygon points="387.1,892.9 397.5,892.9 397.5,889.1 392.3,885.1 387.1,889.1" fill="#f2caa6"/>
<polyline points="387.7,889.1 392.3,885.1 396.9,889.1" fill="none" stroke="#7a4a2c" stroke-width="1.7" stroke-linejoin="miter" stroke-linecap="butt" stroke-linejoin="round"/>
<rect x="387.1" y="880.5" width="10.4" height="12.4" fill="none" stroke="#3c2a1e" stroke-width="1.2"/>
<rect x="379.6" y="893" width="26" height="24" fill="#d8dbe1" stroke="#2e2e2e" stroke-width="1.35" stroke-dasharray="3.4,2.3"/>
<circle cx="392.4" cy="905" r="7.2" fill="#e4e6ee" stroke="#222" stroke-width="1.3"/>
<line x1="387.31" y1="899.91" x2="397.49" y2="910.09" stroke="#222" stroke-width="1.2"/>
<line x1="387.31" y1="910.09" x2="397.49" y2="899.91" stroke="#222" stroke-width="1.2"/>
<rect x="387.1" y="916.8" width="10.4" height="12.4" fill="#f6d4b8" stroke="none" stroke-width="0"/>
<polygon points="387.1,916.8 397.5,916.8 397.5,920.6 392.3,924.6 387.1,920.6" fill="#f2caa6"/>
<polyline points="387.7,920.6 392.3,924.6 396.9,920.6" fill="none" stroke="#7a4a2c" stroke-width="1.7" stroke-linejoin="miter" stroke-linecap="butt" stroke-linejoin="round"/>
<rect x="387.1" y="916.8" width="10.4" height="12.4" fill="none" stroke="#3c2a1e" stroke-width="1.2"/>
<rect x="437.4" y="857.5" width="10.4" height="12.4" fill="#f6d4b8" stroke="none" stroke-width="0"/>
<polygon points="437.4,869.9 447.8,869.9 447.8,866.1 442.6,862.1 437.4,866.1" fill="#f2caa6"/>
<polyline points="438,866.1 442.6,862.1 447.2,866.1" fill="none" stroke="#7a4a2c" stroke-width="1.7" stroke-linejoin="miter" stroke-linecap="butt" stroke-linejoin="round"/>
<rect x="437.4" y="857.5" width="10.4" height="12.4" fill="none" stroke="#3c2a1e" stroke-width="1.2"/>
<rect x="430" y="869" width="26.4" height="24" fill="#d8dbe1" stroke="#2e2e2e" stroke-width="1.35" stroke-dasharray="3.4,2.3"/>
<circle cx="443" cy="881" r="7.2" fill="#e4e6ee" stroke="#222" stroke-width="1.3"/>
<line x1="437.91" y1="875.91" x2="448.09" y2="886.09" stroke="#222" stroke-width="1.2"/>
<line x1="437.91" y1="886.09" x2="448.09" y2="875.91" stroke="#222" stroke-width="1.2"/>
<rect x="437.6" y="893.1" width="10.4" height="12.4" fill="#f6d4b8" stroke="none" stroke-width="0"/>
<polygon points="437.6,893.1 448,893.1 448,896.9 442.8,900.9 437.6,896.9" fill="#f2caa6"/>
<polyline points="438.2,896.9 442.8,900.9 447.4,896.9" fill="none" stroke="#7a4a2c" stroke-width="1.7" stroke-linejoin="miter" stroke-linecap="butt" stroke-linejoin="round"/>
<rect x="437.6" y="893.1" width="10.4" height="12.4" fill="none" stroke="#3c2a1e" stroke-width="1.2"/>
<rect x="486.2" y="857.5" width="10.4" height="12.4" fill="#f6d4b8" stroke="none" stroke-width="0"/>
<polygon points="486.2,869.9 496.6,869.9 496.6,866.1 491.4,862.1 486.2,866.1" fill="#f2caa6"/>
<polyline points="486.8,866.1 491.4,862.1 496,866.1" fill="none" stroke="#7a4a2c" stroke-width="1.7" stroke-linejoin="miter" stroke-linecap="butt" stroke-linejoin="round"/>
<rect x="486.2" y="857.5" width="10.4" height="12.4" fill="none" stroke="#3c2a1e" stroke-width="1.2"/>
<rect x="478" y="869" width="26" height="24" fill="#d8dbe1" stroke="#2e2e2e" stroke-width="1.35" stroke-dasharray="3.4,2.3"/>
<circle cx="491.4" cy="881" r="7.2" fill="#e4e6ee" stroke="#222" stroke-width="1.3"/>
<line x1="486.31" y1="875.91" x2="496.49" y2="886.09" stroke="#222" stroke-width="1.2"/>
<line x1="486.31" y1="886.09" x2="496.49" y2="875.91" stroke="#222" stroke-width="1.2"/>
<rect x="486.2" y="893.1" width="10.4" height="12.4" fill="#f6d4b8" stroke="none" stroke-width="0"/>
<polygon points="486.2,893.1 496.6,893.1 496.6,896.9 491.4,900.9 486.2,896.9" fill="#f2caa6"/>
<polyline points="486.8,896.9 491.4,900.9 496,896.9" fill="none" stroke="#7a4a2c" stroke-width="1.7" stroke-linejoin="miter" stroke-linecap="butt" stroke-linejoin="round"/>
<rect x="486.2" y="893.1" width="10.4" height="12.4" fill="none" stroke="#3c2a1e" stroke-width="1.2"/>
<polygon points="604,632.5 597.9,642.6 610.1,642.6" fill="#2a2a2a"/>
<rect x="541.3" y="683.4" width="10.4" height="12.4" fill="#f6d4b8" stroke="none" stroke-width="0"/>
<polygon points="541.3,695.8 551.7,695.8 551.7,692 546.5,688 541.3,692" fill="#f2caa6"/>
<polyline points="541.9,692 546.5,688 551.1,692" fill="none" stroke="#7a4a2c" stroke-width="1.7" stroke-linejoin="miter" stroke-linecap="butt" stroke-linejoin="round"/>
<rect x="541.3" y="683.4" width="10.4" height="12.4" fill="none" stroke="#3c2a1e" stroke-width="1.2"/>
<rect x="598.6" y="683.4" width="10.4" height="12.4" fill="#f6d4b8" stroke="none" stroke-width="0"/>
<polygon points="598.6,695.8 609,695.8 609,692 603.8,688 598.6,692" fill="#f2caa6"/>
<polyline points="599.2,692 603.8,688 608.4,692" fill="none" stroke="#7a4a2c" stroke-width="1.7" stroke-linejoin="miter" stroke-linecap="butt" stroke-linejoin="round"/>
<rect x="598.6" y="683.4" width="10.4" height="12.4" fill="none" stroke="#3c2a1e" stroke-width="1.2"/>
<rect x="536.3" y="696.3" width="78.2" height="18.2" fill="#d8dbe1" stroke="#2e2e2e" stroke-width="1.35" stroke-dasharray="3.4,2.3"/>
<line x1="546.5" y1="705" x2="604" y2="705" stroke="#333" stroke-width="2"/>
<circle cx="546.5" cy="705" r="2.1" fill="#222"/>
<circle cx="580.5" cy="705" r="2.1" fill="#222"/>
<circle cx="604" cy="705" r="2.1" fill="#222"/>
<line x1="546.5" y1="696.3" x2="546.5" y2="714.5" stroke="#333" stroke-width="1.1"/>
<line x1="604" y1="696.3" x2="604" y2="705" stroke="#333" stroke-width="1.1"/>
<line x1="580.5" y1="705" x2="580.5" y2="714.5" stroke="#333" stroke-width="1.1"/>
<rect x="541.3" y="715.1" width="10.4" height="12.4" fill="#f6d4b8" stroke="none" stroke-width="0"/>
<polygon points="541.3,715.1 551.7,715.1 551.7,718.9 546.5,722.9 541.3,718.9" fill="#f2caa6"/>
<polyline points="541.9,718.9 546.5,722.9 551.1,718.9" fill="none" stroke="#7a4a2c" stroke-width="1.7" stroke-linejoin="miter" stroke-linecap="butt" stroke-linejoin="round"/>
<rect x="541.3" y="715.1" width="10.4" height="12.4" fill="none" stroke="#3c2a1e" stroke-width="1.2"/>
<rect x="575" y="715.1" width="10.4" height="12.4" fill="#f6d4b8" stroke="none" stroke-width="0"/>
<polygon points="575,715.1 585.4,715.1 585.4,718.9 580.2,722.9 575,718.9" fill="#f2caa6"/>
<polyline points="575.6,718.9 580.2,722.9 584.8,718.9" fill="none" stroke="#7a4a2c" stroke-width="1.7" stroke-linejoin="miter" stroke-linecap="butt" stroke-linejoin="round"/>
<rect x="575" y="715.1" width="10.4" height="12.4" fill="none" stroke="#3c2a1e" stroke-width="1.2"/>
<rect x="540.9" y="763.6" width="10.4" height="12.4" fill="#f6d4b8" stroke="none" stroke-width="0"/>
<polygon points="540.9,776 551.3,776 551.3,772.2 546.1,768.2 540.9,772.2" fill="#f2caa6"/>
<polyline points="541.5,772.2 546.1,768.2 550.7,772.2" fill="none" stroke="#7a4a2c" stroke-width="1.7" stroke-linejoin="miter" stroke-linecap="butt" stroke-linejoin="round"/>
<rect x="540.9" y="763.6" width="10.4" height="12.4" fill="none" stroke="#3c2a1e" stroke-width="1.2"/>
<rect x="533.5" y="776.4" width="25.5" height="23.6" fill="#d8dbe1" stroke="#2e2e2e" stroke-width="1.35" stroke-dasharray="3.4,2.3"/>
<circle cx="546.5" cy="788.2" r="7.2" fill="#e4e6ee" stroke="#222" stroke-width="1.3"/>
<line x1="541.41" y1="783.11" x2="551.59" y2="793.29" stroke="#222" stroke-width="1.2"/>
<line x1="541.41" y1="793.29" x2="551.59" y2="783.11" stroke="#222" stroke-width="1.2"/>
<rect x="541.2" y="800" width="10.4" height="12.4" fill="#f6d4b8" stroke="none" stroke-width="0"/>
<polygon points="541.2,800 551.6,800 551.6,803.8 546.4,807.8 541.2,803.8" fill="#f2caa6"/>
<polyline points="541.8,803.8 546.4,807.8 551,803.8" fill="none" stroke="#7a4a2c" stroke-width="1.7" stroke-linejoin="miter" stroke-linecap="butt" stroke-linejoin="round"/>
<rect x="541.2" y="800" width="10.4" height="12.4" fill="none" stroke="#3c2a1e" stroke-width="1.2"/>
<rect x="574.8" y="747.6" width="10.4" height="12.4" fill="#f6d4b8" stroke="none" stroke-width="0"/>
<polygon points="574.8,760 585.2,760 585.2,756.2 580,752.2 574.8,756.2" fill="#f2caa6"/>
<polyline points="575.4,756.2 580,752.2 584.6,756.2" fill="none" stroke="#7a4a2c" stroke-width="1.7" stroke-linejoin="miter" stroke-linecap="butt" stroke-linejoin="round"/>
<rect x="574.8" y="747.6" width="10.4" height="12.4" fill="none" stroke="#3c2a1e" stroke-width="1.2"/>
<rect x="575.4" y="786.4" width="10.4" height="12.4" fill="#f6d4b8" stroke="none" stroke-width="0"/>
<polygon points="575.4,798.8 585.8,798.8 585.8,795 580.6,791 575.4,795" fill="#f2caa6"/>
<polyline points="576,795 580.6,791 585.2,795" fill="none" stroke="#7a4a2c" stroke-width="1.7" stroke-linejoin="miter" stroke-linecap="butt" stroke-linejoin="round"/>
<rect x="575.4" y="786.4" width="10.4" height="12.4" fill="none" stroke="#3c2a1e" stroke-width="1.2"/>
<rect x="567.6" y="798.4" width="26" height="24" fill="#d8dbe1" stroke="#2e2e2e" stroke-width="1.35" stroke-dasharray="3.4,2.3"/>
<circle cx="580.5" cy="810.2" r="7.2" fill="#e4e6ee" stroke="#222" stroke-width="1.3"/>
<line x1="575.41" y1="805.11" x2="585.59" y2="815.29" stroke="#222" stroke-width="1.2"/>
<line x1="575.41" y1="815.29" x2="585.59" y2="805.11" stroke="#222" stroke-width="1.2"/>
<rect x="574.8" y="823.5" width="10.4" height="12.4" fill="#f6d4b8" stroke="none" stroke-width="0"/>
<polygon points="574.8,823.5 585.2,823.5 585.2,827.3 580,831.3 574.8,827.3" fill="#f2caa6"/>
<polyline points="575.4,827.3 580,831.3 584.6,827.3" fill="none" stroke="#7a4a2c" stroke-width="1.7" stroke-linejoin="miter" stroke-linecap="butt" stroke-linejoin="round"/>
<rect x="574.8" y="823.5" width="10.4" height="12.4" fill="none" stroke="#3c2a1e" stroke-width="1.2"/>
<rect x="628.8" y="664" width="10.4" height="12.4" fill="#f6d4b8" stroke="none" stroke-width="0"/>
<polygon points="628.8,664 639.2,664 639.2,667.8 634,671.8 628.8,667.8" fill="#f2caa6"/>
<polyline points="629.4,667.8 634,671.8 638.6,667.8" fill="none" stroke="#7a4a2c" stroke-width="1.7" stroke-linejoin="miter" stroke-linecap="butt" stroke-linejoin="round"/>
<rect x="628.8" y="664" width="10.4" height="12.4" fill="none" stroke="#3c2a1e" stroke-width="1.2"/>
<rect x="628.6" y="731.4" width="10.4" height="12.4" fill="#f6d4b8" stroke="none" stroke-width="0"/>
<polygon points="628.6,743.8 639,743.8 639,740 633.8,736 628.6,740" fill="#f2caa6"/>
<polyline points="629.2,740 633.8,736 638.4,740" fill="none" stroke="#7a4a2c" stroke-width="1.7" stroke-linejoin="miter" stroke-linecap="butt" stroke-linejoin="round"/>
<rect x="628.6" y="731.4" width="10.4" height="12.4" fill="none" stroke="#3c2a1e" stroke-width="1.2"/>
<rect x="621" y="744" width="26" height="23.6" fill="#d8dbe1" stroke="#2e2e2e" stroke-width="1.35" stroke-dasharray="3.4,2.3"/>
<circle cx="634" cy="755.7" r="7.2" fill="#e4e6ee" stroke="#222" stroke-width="1.3"/>
<line x1="628.91" y1="750.61" x2="639.09" y2="760.79" stroke="#222" stroke-width="1.2"/>
<line x1="628.91" y1="760.79" x2="639.09" y2="750.61" stroke="#222" stroke-width="1.2"/>
<rect x="628.8" y="767.6" width="10.4" height="12.4" fill="#f6d4b8" stroke="none" stroke-width="0"/>
<polygon points="628.8,767.6 639.2,767.6 639.2,771.4 634,775.4 628.8,771.4" fill="#f2caa6"/>
<polyline points="629.4,771.4 634,775.4 638.6,771.4" fill="none" stroke="#7a4a2c" stroke-width="1.7" stroke-linejoin="miter" stroke-linecap="butt" stroke-linejoin="round"/>
<rect x="628.8" y="767.6" width="10.4" height="12.4" fill="none" stroke="#3c2a1e" stroke-width="1.2"/>
<circle cx="87" cy="99.5" r="2.7" fill="#fff" stroke="#2b2b2b" stroke-width="1.1"/>
<circle cx="177" cy="111.6" r="2.7" fill="#fff" stroke="#2b2b2b" stroke-width="1.1"/>
<circle cx="182.2" cy="223.2" r="2.7" fill="#fff" stroke="#2b2b2b" stroke-width="1.1"/>
<circle cx="104.3" cy="404.6" r="2.7" fill="#fff" stroke="#2b2b2b" stroke-width="1.1"/>
<circle cx="183.8" cy="421" r="2.7" fill="#fff" stroke="#2b2b2b" stroke-width="1.1"/>
<circle cx="183.8" cy="453.8" r="2.7" fill="#fff" stroke="#2b2b2b" stroke-width="1.1"/>
<circle cx="216.4" cy="453.8" r="2.7" fill="#fff" stroke="#2b2b2b" stroke-width="1.1"/>
<circle cx="303.3" cy="453.8" r="2.7" fill="#fff" stroke="#2b2b2b" stroke-width="1.1"/>
<circle cx="452" cy="111.6" r="2.7" fill="#fff" stroke="#2b2b2b" stroke-width="1.1"/>
<circle cx="478.3" cy="416.2" r="2.7" fill="#fff" stroke="#2b2b2b" stroke-width="1.1"/>
<circle cx="537.6" cy="416.8" r="2.7" fill="#fff" stroke="#2b2b2b" stroke-width="1.1"/>
<circle cx="621" cy="417.2" r="2.7" fill="#fff" stroke="#2b2b2b" stroke-width="1.1"/>
<circle cx="621" cy="453.8" r="2.7" fill="#fff" stroke="#2b2b2b" stroke-width="1.1"/>
<circle cx="96.3" cy="546" r="2.7" fill="#fff" stroke="#2b2b2b" stroke-width="1.1"/>
<circle cx="147.5" cy="533.3" r="2.7" fill="#fff" stroke="#2b2b2b" stroke-width="1.1"/>
<circle cx="256.3" cy="521.3" r="2.7" fill="#fff" stroke="#2b2b2b" stroke-width="1.1"/>
<circle cx="114.3" cy="967.6" r="2.7" fill="#fff" stroke="#2b2b2b" stroke-width="1.1"/>
<circle cx="238.4" cy="967.6" r="2.7" fill="#fff" stroke="#2b2b2b" stroke-width="1.1"/>
<circle cx="490.3" cy="814.5" r="2.7" fill="#fff" stroke="#2b2b2b" stroke-width="1.1"/>
<circle cx="392.3" cy="967.6" r="2.7" fill="#fff" stroke="#2b2b2b" stroke-width="1.1"/>
<circle cx="443" cy="967.6" r="2.7" fill="#fff" stroke="#2b2b2b" stroke-width="1.1"/>
<circle cx="491.3" cy="967.6" r="2.7" fill="#fff" stroke="#2b2b2b" stroke-width="1.1"/>
<circle cx="546.5" cy="967.6" r="2.7" fill="#fff" stroke="#2b2b2b" stroke-width="1.1"/>
<circle cx="580" cy="967.6" r="2.7" fill="#fff" stroke="#2b2b2b" stroke-width="1.1"/>
<circle cx="620.7" cy="967.6" r="2.7" fill="#fff" stroke="#2b2b2b" stroke-width="1.1"/>
<text x="312.5" y="42.66" font-size="12.4" font-weight="bold" fill="#6a6a6a" stroke="#6a6a6a" stroke-width="0" textLength="79.5" lengthAdjust="spacingAndGlyphs">Приложения</text>
<text x="644.3" y="42.66" font-size="18.5" font-weight="bold" fill="#767676" stroke="#767676" stroke-width="0" textLength="38" lengthAdjust="spacingAndGlyphs">303</text>
<text x="704" y="1033.4" style="font-family:'Liberation Mono',monospace" font-size="7.4" font-weight="bold" fill="#c23a55" textLength="96" lengthAdjust="spacingAndGlyphs">Powered by FotoHostingTV.RU</text>
<text x="55.6" y="82.1" font-size="15" font-weight="bold" fill="#5f6a93" textLength="223.3" lengthAdjust="spacingAndGlyphs">Схема сигналов торможения</text>
<text x="42" y="102.52" font-size="8.4" fill="#262626" stroke="#262626" stroke-width="0.22">30</text>
<text x="42" y="114.62" font-size="8.4" fill="#262626" stroke="#262626" stroke-width="0.22">15</text>
<text x="42.5" y="456.82" font-size="8.4" fill="#262626" stroke="#262626" stroke-width="0.22">31</text>
<text x="634.5" y="102.52" font-size="8.4" fill="#262626" stroke="#262626" stroke-width="0.22">30</text>
<text x="636" y="114.62" font-size="8.4" fill="#262626" stroke="#262626" stroke-width="0.22">15</text>
<text x="641.5" y="456.82" font-size="8.4" fill="#262626" stroke="#262626" stroke-width="0.22">31</text>
<text x="667.05" y="102.12" font-size="8.4" text-anchor="middle" fill="#333" stroke="#333" stroke-width="0.22">BAT+</text>
<text x="667.05" y="114.02" font-size="8.4" text-anchor="middle" fill="#333" stroke="#333" stroke-width="0.22">IGN1</text>
<text x="666.55" y="457.27" font-size="8.4" text-anchor="middle" fill="#333" stroke="#333" stroke-width="0.22">GND</text>
<text x="103.5" y="150.45" font-size="8.2" text-anchor="middle" fill="#262626" stroke="#262626" stroke-width="0.22" textLength="15.18" lengthAdjust="spacingAndGlyphs">Ef13</text>
<text x="103.5" y="170.45" font-size="8.2" text-anchor="middle" fill="#262626" stroke="#262626" stroke-width="0.22" textLength="13.13" lengthAdjust="spacingAndGlyphs">15A</text>
<text x="130" y="150.25" font-size="8.2" text-anchor="middle" fill="#262626" stroke="#262626" stroke-width="0.22" textLength="4.1" lengthAdjust="spacingAndGlyphs">6</text>
<text x="130.5" y="170.45" font-size="8.2" text-anchor="middle" fill="#262626" stroke="#262626" stroke-width="0.22" textLength="17.64" lengthAdjust="spacingAndGlyphs">C102</text>
<text x="179.3" y="150.25" font-size="8.2" text-anchor="middle" fill="#262626" stroke="#262626" stroke-width="0.22" textLength="8.21" lengthAdjust="spacingAndGlyphs">40</text>
<text x="179" y="171.35" font-size="8.2" text-anchor="middle" fill="#262626" stroke="#262626" stroke-width="0.22" textLength="17.64" lengthAdjust="spacingAndGlyphs">C202</text>
<text x="202.6" y="121.45" font-size="8.2" text-anchor="middle" fill="#262626" stroke="#262626" stroke-width="0.22" textLength="8.21" lengthAdjust="spacingAndGlyphs">30</text>
<text x="202.2" y="142.95" font-size="8.2" text-anchor="middle" fill="#262626" stroke="#262626" stroke-width="0.22" textLength="17.64" lengthAdjust="spacingAndGlyphs">C201</text>
<text x="230.5" y="121.45" font-size="8.2" text-anchor="middle" fill="#262626" stroke="#262626" stroke-width="0.22" textLength="8.61" lengthAdjust="spacingAndGlyphs">F4</text>
<text x="230.8" y="142.95" font-size="8.2" text-anchor="middle" fill="#262626" stroke="#262626" stroke-width="0.22" textLength="13.13" lengthAdjust="spacingAndGlyphs">10A</text>
<text x="259.4" y="121.45" font-size="8.2" text-anchor="middle" fill="#262626" stroke="#262626" stroke-width="0.22" textLength="8.21" lengthAdjust="spacingAndGlyphs">18</text>
<text x="259.5" y="142.95" font-size="8.2" text-anchor="middle" fill="#262626" stroke="#262626" stroke-width="0.22" textLength="17.64" lengthAdjust="spacingAndGlyphs">C201</text>
<text x="250" y="171.25" font-size="8.2" fill="#262626" stroke="#262626" stroke-width="0.22" textLength="4.1" lengthAdjust="spacingAndGlyphs">2</text>
<text x="294.5" y="171.25" font-size="8.2" fill="#262626" stroke="#262626" stroke-width="0.22" textLength="4.1" lengthAdjust="spacingAndGlyphs">1</text>
<text x="291" y="185.38" font-size="9.4" fill="#262626" stroke="#262626" stroke-width="0.22">АКП</text>
<text x="161.6" y="184.24" font-size="9" fill="#262626" stroke="#262626" stroke-width="0.22">Выключатель</text>
<text x="161.6" y="192.84" font-size="9" fill="#262626" stroke="#262626" stroke-width="0.22">сигнала</text>
<text x="161.6" y="201.44" font-size="9" fill="#262626" stroke="#262626" stroke-width="0.22">торможения</text>
<text x="249.5" y="210.55" font-size="8.2" fill="#262626" stroke="#262626" stroke-width="0.22" textLength="4.1" lengthAdjust="spacingAndGlyphs">4</text>
<text x="292" y="210.55" font-size="8.2" fill="#262626" stroke="#262626" stroke-width="0.22" textLength="4.1" lengthAdjust="spacingAndGlyphs">3</text>
<text x="217.6" y="215.25" font-size="8.2" text-anchor="middle" fill="#262626" stroke="#262626" stroke-width="0.22" textLength="8.21" lengthAdjust="spacingAndGlyphs">61</text>
<text x="217.8" y="237.15" font-size="8.2" text-anchor="middle" fill="#262626" stroke="#262626" stroke-width="0.22" textLength="17.64" lengthAdjust="spacingAndGlyphs">C201</text>
<text x="131.5" y="243.95" font-size="8.2" text-anchor="end" fill="#262626" stroke="#262626" stroke-width="0.22" textLength="8.21" lengthAdjust="spacingAndGlyphs">76</text>
<text x="175.5" y="243.95" font-size="8.2" text-anchor="end" fill="#262626" stroke="#262626" stroke-width="0.22" textLength="8.21" lengthAdjust="spacingAndGlyphs">50</text>
<text x="190.5" y="244.45" font-size="8.2" fill="#262626" stroke="#262626" stroke-width="0.22" textLength="17.64" lengthAdjust="spacingAndGlyphs">C201</text>
<text x="132" y="274.95" font-size="8.2" text-anchor="end" fill="#262626" stroke="#262626" stroke-width="0.22" textLength="7.66" lengthAdjust="spacingAndGlyphs">11</text>
<text x="146.5" y="275.25" font-size="8.2" fill="#262626" stroke="#262626" stroke-width="0.22" textLength="17.64" lengthAdjust="spacingAndGlyphs">C202</text>
<text x="147.5" y="303.45" font-size="8.2" fill="#262626" stroke="#262626" stroke-width="0.22" textLength="7.66" lengthAdjust="spacingAndGlyphs">11</text>
<text x="75" y="303.55" font-size="8.2" fill="#262626" stroke="#262626" stroke-width="0.22" textLength="17.23" lengthAdjust="spacingAndGlyphs">S301</text>
<text x="93" y="332.95" font-size="8.2" fill="#262626" stroke="#262626" stroke-width="0.22" textLength="8.21" lengthAdjust="spacingAndGlyphs">14</text>
<text x="147" y="332.95" font-size="8.2" fill="#262626" stroke="#262626" stroke-width="0.22" textLength="8.21" lengthAdjust="spacingAndGlyphs">12</text>
<text x="43" y="193.24" font-size="9" fill="#262626" stroke="#262626" stroke-width="0.22">К контакту «14»</text>
<text x="43" y="203.54" font-size="9" fill="#262626" stroke="#262626" stroke-width="0.22">блока управления</text>
<text x="43" y="212.84" font-size="9" fill="#262626" stroke="#262626" stroke-width="0.22">тормозной системой</text>
<text x="54.5" y="260.55" font-size="8.2" text-anchor="end" fill="#262626" stroke="#262626" stroke-width="0.22" textLength="4.1" lengthAdjust="spacingAndGlyphs">1</text>
<text x="69.5" y="261.25" font-size="8.2" fill="#262626" stroke="#262626" stroke-width="0.22" textLength="17.09" lengthAdjust="spacingAndGlyphs">C110</text>
<text x="77.5" y="372.95" font-size="8.2" text-anchor="end" fill="#262626" stroke="#262626" stroke-width="0.22" textLength="4.1" lengthAdjust="spacingAndGlyphs">3</text>
<text x="93" y="373.45" font-size="8.2" fill="#262626" stroke="#262626" stroke-width="0.22" textLength="17.64" lengthAdjust="spacingAndGlyphs">C401</text>
<text x="125" y="377.65" font-size="8.2" text-anchor="middle" fill="#262626" stroke="#262626" stroke-width="0.22" textLength="4.1" lengthAdjust="spacingAndGlyphs">2</text>
<text x="163" y="377.65" font-size="8.2" text-anchor="middle" fill="#262626" stroke="#262626" stroke-width="0.22" textLength="4.1" lengthAdjust="spacingAndGlyphs">3</text>
<text x="130" y="370.24" font-size="9" fill="#262626" stroke="#262626" stroke-width="0.22">Правый</text>
<text x="125" y="413.65" font-size="8.2" text-anchor="middle" fill="#262626" stroke="#262626" stroke-width="0.22" textLength="4.1" lengthAdjust="spacingAndGlyphs">2</text>
<text x="163" y="413.65" font-size="8.2" text-anchor="middle" fill="#262626" stroke="#262626" stroke-width="0.22" textLength="4.1" lengthAdjust="spacingAndGlyphs">3</text>
<text x="130" y="407.04" font-size="9" fill="#262626" stroke="#262626" stroke-width="0.22">Левый</text>
<text x="120" y="440.84" font-size="9" fill="#262626" stroke="#262626" stroke-width="0.22">Сигналы</text>
<text x="120" y="449.54" font-size="9" fill="#262626" stroke="#262626" stroke-width="0.22">торможения</text>
<text x="188" y="449.45" font-size="8.2" fill="#262626" stroke="#262626" stroke-width="0.22" textLength="18.05" lengthAdjust="spacingAndGlyphs">G401</text>
<text x="204.2" y="295.95" font-size="8.2" text-anchor="middle" fill="#262626" stroke="#262626" stroke-width="0.22" textLength="4.1" lengthAdjust="spacingAndGlyphs">9</text>
<text x="204.2" y="318.45" font-size="8.2" text-anchor="middle" fill="#262626" stroke="#262626" stroke-width="0.22" textLength="17.64" lengthAdjust="spacingAndGlyphs">C206</text>
<text x="248" y="292.24" font-size="9" fill="#262626" stroke="#262626" stroke-width="0.22">К контакту</text>
<text x="248" y="302.04" font-size="9" fill="#262626" stroke="#262626" stroke-width="0.22">«B22»</text>
<text x="248" y="311.24" font-size="9" fill="#262626" stroke="#262626" stroke-width="0.22">блока</text>
<text x="248" y="320.44" font-size="9" fill="#262626" stroke="#262626" stroke-width="0.22">управления</text>
<text x="248" y="328.84" font-size="9" fill="#262626" stroke="#262626" stroke-width="0.22">АКП</text>
<text x="209.5" y="360.75" font-size="8.2" text-anchor="end" fill="#262626" stroke="#262626" stroke-width="0.22" textLength="4.1" lengthAdjust="spacingAndGlyphs">5</text>
<text x="224" y="360.95" font-size="8.2" fill="#262626" stroke="#262626" stroke-width="0.22" textLength="17.64" lengthAdjust="spacingAndGlyphs">C403</text>
<text x="225" y="389.95" font-size="8.2" fill="#262626" stroke="#262626" stroke-width="0.22" textLength="4.1" lengthAdjust="spacingAndGlyphs">2</text>
<text x="225" y="427.75" font-size="8.2" fill="#262626" stroke="#262626" stroke-width="0.22" textLength="4.1" lengthAdjust="spacingAndGlyphs">1</text>
<text x="233" y="390.84" font-size="9" fill="#262626" stroke="#262626" stroke-width="0.22">Допол-</text>
<text x="233" y="400.24" font-size="9" fill="#262626" stroke="#262626" stroke-width="0.22">нительный</text>
<text x="233" y="409.44" font-size="9" fill="#262626" stroke="#262626" stroke-width="0.22">фонарь</text>
<text x="233" y="418.74" font-size="9" fill="#262626" stroke="#262626" stroke-width="0.22">сигнала</text>
<text x="233" y="427.84" font-size="9" fill="#262626" stroke="#262626" stroke-width="0.22">торможения</text>
<text x="221" y="449.95" font-size="8.2" fill="#262626" stroke="#262626" stroke-width="0.22" textLength="18.05" lengthAdjust="spacingAndGlyphs">G402</text>
<text x="349.5" y="241.45" font-size="8.2" fill="#262626" stroke="#262626" stroke-width="0.22" textLength="4.1" lengthAdjust="spacingAndGlyphs">4</text>
<text x="349.5" y="276.95" font-size="8.2" fill="#262626" stroke="#262626" stroke-width="0.22" textLength="4.1" lengthAdjust="spacingAndGlyphs">3</text>
<text x="231" y="250.24" font-size="9" fill="#262626" stroke="#262626" stroke-width="0.22">Соленоид блокировки</text>
<text x="231" y="259.54" font-size="9" fill="#262626" stroke="#262626" stroke-width="0.22">селектора автоматич.</text>
<text x="231" y="268.74" font-size="9" fill="#262626" stroke="#262626" stroke-width="0.22">коробки передач</text>
<text x="231" y="277.84" font-size="9" fill="#262626" stroke="#262626" stroke-width="0.22">в положении «Р»</text>
<text x="326" y="324.45" font-size="8.2" fill="#262626" stroke="#262626" stroke-width="0.22" textLength="4.1" lengthAdjust="spacingAndGlyphs">2</text>
<text x="312" y="362.95" font-size="8.2" fill="#262626" stroke="#262626" stroke-width="0.22" textLength="4.1" lengthAdjust="spacingAndGlyphs">1</text>
<text x="311.5" y="394.95" font-size="8.2" fill="#262626" stroke="#262626" stroke-width="0.22" textLength="4.1" lengthAdjust="spacingAndGlyphs">3</text>
<text x="317.5" y="409.95" font-size="8.2" fill="#262626" stroke="#262626" stroke-width="0.22" textLength="17.23" lengthAdjust="spacingAndGlyphs">S203</text>
<text x="311.5" y="423.95" font-size="8.2" fill="#262626" stroke="#262626" stroke-width="0.22" textLength="4.1" lengthAdjust="spacingAndGlyphs">5</text>
<text x="309.5" y="449.95" font-size="8.2" fill="#262626" stroke="#262626" stroke-width="0.22" textLength="18.05" lengthAdjust="spacingAndGlyphs">G203</text>
<text x="335.6" y="326.24" font-size="9" fill="#262626" stroke="#262626" stroke-width="0.22">Выклюатель</text>
<text x="335.6" y="335.44" font-size="9" fill="#262626" stroke="#262626" stroke-width="0.22">положения «Р»</text>
<text x="335.6" y="344.84" font-size="9" fill="#262626" stroke="#262626" stroke-width="0.22">селектора</text>
<text x="335.6" y="354.04" font-size="9" fill="#262626" stroke="#262626" stroke-width="0.22">автоматич.</text>
<text x="335.6" y="363.44" font-size="9" fill="#262626" stroke="#262626" stroke-width="0.22">коробки передач</text>
<text x="444.5" y="133.95" font-size="8.2" text-anchor="end" fill="#262626" stroke="#262626" stroke-width="0.22" textLength="8.21" lengthAdjust="spacingAndGlyphs">30</text>
<text x="460.5" y="133.95" font-size="8.2" fill="#262626" stroke="#262626" stroke-width="0.22" textLength="17.64" lengthAdjust="spacingAndGlyphs">C201</text>
<text x="426" y="149.04" font-size="9" fill="#262626" stroke="#262626" stroke-width="0.22">МКП</text>
<text x="462" y="149.04" font-size="9" fill="#262626" stroke="#262626" stroke-width="0.22">АКП</text>
<text x="421" y="170.55" font-size="8.2" text-anchor="end" fill="#262626" stroke="#262626" stroke-width="0.22" textLength="12.72" lengthAdjust="spacingAndGlyphs">F20</text>
<text x="434.5" y="170.55" font-size="8.2" fill="#262626" stroke="#262626" stroke-width="0.22" textLength="13.13" lengthAdjust="spacingAndGlyphs">10A</text>
<text x="472.5" y="170.55" font-size="8.2" text-anchor="end" fill="#262626" stroke="#262626" stroke-width="0.22" textLength="8.61" lengthAdjust="spacingAndGlyphs">F2</text>
<text x="485" y="170.55" font-size="8.2" fill="#262626" stroke="#262626" stroke-width="0.22" textLength="13.13" lengthAdjust="spacingAndGlyphs">10A</text>
<text x="420" y="197.95" font-size="8.2" text-anchor="end" fill="#262626" stroke="#262626" stroke-width="0.22" textLength="8.21" lengthAdjust="spacingAndGlyphs">67</text>
<text x="471.5" y="197.45" font-size="8.2" text-anchor="end" fill="#262626" stroke="#262626" stroke-width="0.22" textLength="4.1" lengthAdjust="spacingAndGlyphs">3</text>
<text x="487" y="197.95" font-size="8.2" fill="#262626" stroke="#262626" stroke-width="0.22" textLength="17.64" lengthAdjust="spacingAndGlyphs">C201</text>
<text x="420.5" y="227.95" font-size="8.2" text-anchor="end" fill="#262626" stroke="#262626" stroke-width="0.22" textLength="8.21" lengthAdjust="spacingAndGlyphs">42</text>
<text x="435.5" y="228.25" font-size="8.2" fill="#262626" stroke="#262626" stroke-width="0.22" textLength="17.64" lengthAdjust="spacingAndGlyphs">C202</text>
<text x="421.3" y="256.95" font-size="8.2" text-anchor="end" fill="#262626" stroke="#262626" stroke-width="0.22" textLength="8.21" lengthAdjust="spacingAndGlyphs">13</text>
<text x="435" y="257.25" font-size="8.2" fill="#262626" stroke="#262626" stroke-width="0.22" textLength="17.64" lengthAdjust="spacingAndGlyphs">C108</text>
<text x="436.5" y="284.75" font-size="8.2" fill="#262626" stroke="#262626" stroke-width="0.22" textLength="4.1" lengthAdjust="spacingAndGlyphs">1</text>
<text x="436" y="320.95" font-size="8.2" fill="#262626" stroke="#262626" stroke-width="0.22" textLength="4.1" lengthAdjust="spacingAndGlyphs">2</text>
<text x="361" y="285.64" font-size="9" fill="#262626" stroke="#262626" stroke-width="0.22">Выклюатель</text>
<text x="361" y="295.04" font-size="9" fill="#262626" stroke="#262626" stroke-width="0.22">света зад-</text>
<text x="361" y="304.04" font-size="9" fill="#262626" stroke="#262626" stroke-width="0.22">него хода</text>
<text x="420" y="377.45" font-size="8.2" text-anchor="end" fill="#262626" stroke="#262626" stroke-width="0.22" textLength="8.21" lengthAdjust="spacingAndGlyphs">12</text>
<text x="435" y="377.75" font-size="8.2" fill="#262626" stroke="#262626" stroke-width="0.22" textLength="17.64" lengthAdjust="spacingAndGlyphs">C108</text>
<text x="471.5" y="239.45" font-size="8.2" text-anchor="end" fill="#262626" stroke="#262626" stroke-width="0.22" textLength="8.21" lengthAdjust="spacingAndGlyphs">12</text>
<text x="486" y="239.75" font-size="8.2" fill="#262626" stroke="#262626" stroke-width="0.22" textLength="17.64" lengthAdjust="spacingAndGlyphs">C206</text>
<text x="486.5" y="284.75" font-size="8.2" fill="#262626" stroke="#262626" stroke-width="0.22" textLength="4.1" lengthAdjust="spacingAndGlyphs">3</text>
<text x="487" y="320.95" font-size="8.2" fill="#262626" stroke="#262626" stroke-width="0.22" textLength="4.1" lengthAdjust="spacingAndGlyphs">2</text>
<text x="496" y="298.44" font-size="9" fill="#262626" stroke="#262626" stroke-width="0.22">Выклюатель</text>
<text x="496" y="308.44" font-size="9" fill="#262626" stroke="#262626" stroke-width="0.22">на сепекторе АКП</text>
<text x="471.5" y="362.95" font-size="8.2" text-anchor="end" fill="#262626" stroke="#262626" stroke-width="0.22" textLength="8.21" lengthAdjust="spacingAndGlyphs">17</text>
<text x="486" y="363.25" font-size="8.2" fill="#262626" stroke="#262626" stroke-width="0.22" textLength="17.64" lengthAdjust="spacingAndGlyphs">C206</text>
<text x="471.5" y="396.45" font-size="8.2" text-anchor="end" fill="#262626" stroke="#262626" stroke-width="0.22" textLength="8.21" lengthAdjust="spacingAndGlyphs">75</text>
<text x="486" y="396.75" font-size="8.2" fill="#262626" stroke="#262626" stroke-width="0.22" textLength="17.64" lengthAdjust="spacingAndGlyphs">C202</text>
<text x="508.2" y="409.15" font-size="8.2" text-anchor="middle" fill="#262626" stroke="#262626" stroke-width="0.22" textLength="4.1" lengthAdjust="spacingAndGlyphs">7</text>
<text x="508.2" y="431.35" font-size="8.2" text-anchor="middle" fill="#262626" stroke="#262626" stroke-width="0.22" textLength="17.64" lengthAdjust="spacingAndGlyphs">C401</text>
<text x="560.5" y="360.15" font-size="8.2" text-anchor="middle" fill="#262626" stroke="#262626" stroke-width="0.22" textLength="4.1" lengthAdjust="spacingAndGlyphs">3</text>
<text x="598" y="360.15" font-size="8.2" text-anchor="middle" fill="#262626" stroke="#262626" stroke-width="0.22" textLength="4.1" lengthAdjust="spacingAndGlyphs">2</text>
<text x="567" y="390.84" font-size="9" fill="#262626" stroke="#262626" stroke-width="0.22">Правый</text>
<text x="560.5" y="409.15" font-size="8.2" text-anchor="middle" fill="#262626" stroke="#262626" stroke-width="0.22" textLength="4.1" lengthAdjust="spacingAndGlyphs">3</text>
<text x="598" y="409.15" font-size="8.2" text-anchor="middle" fill="#262626" stroke="#262626" stroke-width="0.22" textLength="4.1" lengthAdjust="spacingAndGlyphs">2</text>
<text x="567" y="440.84" font-size="9" fill="#262626" stroke="#262626" stroke-width="0.22">Левый</text>
<text x="550.4" y="340.24" font-size="9" fill="#262626" stroke="#262626" stroke-width="0.22">Фонари света</text>
<text x="550.4" y="349.84" font-size="9" fill="#262626" stroke="#262626" stroke-width="0.22">заднего хода</text>
<text x="597.6" y="449.95" font-size="8.2" fill="#262626" stroke="#262626" stroke-width="0.22" textLength="18.05" lengthAdjust="spacingAndGlyphs">G402</text>
<text x="55.6" y="504.3" font-size="15" font-weight="bold" fill="#5f6a93" textLength="246.6" lengthAdjust="spacingAndGlyphs">Схема аварийной сигнализации</text>
<text x="42" y="524.32" font-size="8.4" fill="#262626" stroke="#262626" stroke-width="0.22">30</text>
<text x="42" y="536.32" font-size="8.4" fill="#262626" stroke="#262626" stroke-width="0.22">15</text>
<text x="42" y="549.02" font-size="8.4" fill="#262626" stroke="#262626" stroke-width="0.22">58</text>
<text x="42.7" y="970.62" font-size="8.4" fill="#262626" stroke="#262626" stroke-width="0.22">31</text>
<text x="634.5" y="524.32" font-size="8.4" fill="#262626" stroke="#262626" stroke-width="0.22">30</text>
<text x="634.5" y="536.32" font-size="8.4" fill="#262626" stroke="#262626" stroke-width="0.22">15</text>
<text x="634.5" y="549.02" font-size="8.4" fill="#262626" stroke="#262626" stroke-width="0.22">58</text>
<text x="634.2" y="970.62" font-size="8.4" fill="#262626" stroke="#262626" stroke-width="0.22">31</text>
<text x="667.15" y="524.32" font-size="8.4" text-anchor="middle" fill="#333" stroke="#333" stroke-width="0.22">BAT+</text>
<text x="667.15" y="536.52" font-size="8.4" text-anchor="middle" fill="#333" stroke="#333" stroke-width="0.22">IGN1</text>
<text x="667.15" y="548.82" font-size="8.4" text-anchor="middle" fill="#333" stroke="#333" stroke-width="0.22">ILL+</text>
<text x="665.8" y="970.32" font-size="8.4" text-anchor="middle" fill="#333" stroke="#333" stroke-width="0.22">GND</text>
<text x="57.4" y="981.7" font-size="8.6" fill="#262626" stroke="#262626" stroke-width="0.22" textLength="164" lengthAdjust="spacingAndGlyphs">* - установлено под панелью приборов</text>
<text x="90" y="566.75" font-size="8.2" text-anchor="end" fill="#262626" stroke="#262626" stroke-width="0.22" textLength="15.18" lengthAdjust="spacingAndGlyphs">Ef28</text>
<text x="102.5" y="566.75" font-size="8.2" fill="#262626" stroke="#262626" stroke-width="0.22" textLength="13.13" lengthAdjust="spacingAndGlyphs">10A</text>
<text x="89" y="592.55" font-size="8.2" text-anchor="end" fill="#262626" stroke="#262626" stroke-width="0.22" textLength="8.21" lengthAdjust="spacingAndGlyphs">10</text>
<text x="104" y="592.55" font-size="8.2" fill="#262626" stroke="#262626" stroke-width="0.22" textLength="17.64" lengthAdjust="spacingAndGlyphs">C101</text>
<text x="89" y="625.55" font-size="8.2" text-anchor="end" fill="#262626" stroke="#262626" stroke-width="0.22" textLength="8.21" lengthAdjust="spacingAndGlyphs">39</text>
<text x="104" y="625.95" font-size="8.2" fill="#262626" stroke="#262626" stroke-width="0.22" textLength="17.64" lengthAdjust="spacingAndGlyphs">C202</text>
<text x="103.5" y="661.35" font-size="8.2" fill="#262626" stroke="#262626" stroke-width="0.22" textLength="4.1" lengthAdjust="spacingAndGlyphs">4</text>
<text x="65.5" y="676.75" font-size="8.2" fill="#262626" stroke="#262626" stroke-width="0.22" textLength="17.23" lengthAdjust="spacingAndGlyphs">S204</text>
<text x="103.5" y="690.95" font-size="8.2" fill="#262626" stroke="#262626" stroke-width="0.22" textLength="8.21" lengthAdjust="spacingAndGlyphs">14</text>
<text x="104" y="724.95" font-size="8.2" fill="#262626" stroke="#262626" stroke-width="0.22" textLength="4.1" lengthAdjust="spacingAndGlyphs">3</text>
<text x="140.5" y="568.95" font-size="8.2" text-anchor="end" fill="#262626" stroke="#262626" stroke-width="0.22" textLength="8.21" lengthAdjust="spacingAndGlyphs">30</text>
<text x="155" y="569.25" font-size="8.2" fill="#262626" stroke="#262626" stroke-width="0.22" textLength="17.64" lengthAdjust="spacingAndGlyphs">C201</text>
<text x="142" y="594.95" font-size="8.2" text-anchor="end" fill="#262626" stroke="#262626" stroke-width="0.22" textLength="8.61" lengthAdjust="spacingAndGlyphs">F3</text>
<text x="153.5" y="594.95" font-size="8.2" fill="#262626" stroke="#262626" stroke-width="0.22" textLength="13.13" lengthAdjust="spacingAndGlyphs">15A</text>
<text x="140" y="621.95" font-size="8.2" text-anchor="end" fill="#262626" stroke="#262626" stroke-width="0.22" textLength="4.1" lengthAdjust="spacingAndGlyphs">5</text>
<text x="155" y="621.95" font-size="8.2" fill="#262626" stroke="#262626" stroke-width="0.22" textLength="17.64" lengthAdjust="spacingAndGlyphs">C201</text>
<text x="155" y="724.95" font-size="8.2" fill="#262626" stroke="#262626" stroke-width="0.22" textLength="8.21" lengthAdjust="spacingAndGlyphs">10</text>
<text x="250" y="567.55" font-size="8.2" text-anchor="end" fill="#262626" stroke="#262626" stroke-width="0.22" textLength="11.08" lengthAdjust="spacingAndGlyphs">Ef1</text>
<text x="262.5" y="567.55" font-size="8.2" fill="#262626" stroke="#262626" stroke-width="0.22" textLength="13.13" lengthAdjust="spacingAndGlyphs">30A</text>
<text x="248.5" y="592.95" font-size="8.2" text-anchor="end" fill="#262626" stroke="#262626" stroke-width="0.22" textLength="4.1" lengthAdjust="spacingAndGlyphs">2</text>
<text x="264" y="593.15" font-size="8.2" fill="#262626" stroke="#262626" stroke-width="0.22" textLength="17.64" lengthAdjust="spacingAndGlyphs">C105</text>
<text x="250" y="643.25" font-size="8.2" text-anchor="end" fill="#262626" stroke="#262626" stroke-width="0.22" textLength="8.21" lengthAdjust="spacingAndGlyphs">56</text>
<text x="264" y="643.45" font-size="8.2" fill="#262626" stroke="#262626" stroke-width="0.22" textLength="17.64" lengthAdjust="spacingAndGlyphs">C202</text>
<text x="191.2" y="596.25" font-size="8.2" text-anchor="end" fill="#262626" stroke="#262626" stroke-width="0.22" textLength="8.21" lengthAdjust="spacingAndGlyphs">47</text>
<text x="206.5" y="596.75" font-size="8.2" fill="#262626" stroke="#262626" stroke-width="0.22" textLength="17.64" lengthAdjust="spacingAndGlyphs">C201</text>
<text x="192" y="621.45" font-size="8.2" text-anchor="end" fill="#262626" stroke="#262626" stroke-width="0.22" textLength="12.72" lengthAdjust="spacingAndGlyphs">F14</text>
<text x="205" y="621.45" font-size="8.2" fill="#262626" stroke="#262626" stroke-width="0.22" textLength="13.13" lengthAdjust="spacingAndGlyphs">15A</text>
<text x="192" y="648.25" font-size="8.2" text-anchor="end" fill="#262626" stroke="#262626" stroke-width="0.22" textLength="8.21" lengthAdjust="spacingAndGlyphs">34</text>
<text x="205.5" y="648.45" font-size="8.2" fill="#262626" stroke="#262626" stroke-width="0.22" textLength="17.64" lengthAdjust="spacingAndGlyphs">C201</text>
<text x="206.5" y="724.95" font-size="8.2" fill="#262626" stroke="#262626" stroke-width="0.22" textLength="4.1" lengthAdjust="spacingAndGlyphs">8</text>
<text x="236.5" y="729.15" font-size="8.2" text-anchor="middle" fill="#262626" stroke="#262626" stroke-width="0.22" textLength="4.1" lengthAdjust="spacingAndGlyphs">5</text>
<text x="236.5" y="750.55" font-size="8.2" text-anchor="middle" fill="#262626" stroke="#262626" stroke-width="0.22" textLength="4.1" lengthAdjust="spacingAndGlyphs">6</text>
<text x="236.5" y="787.95" font-size="8.2" text-anchor="middle" fill="#262626" stroke="#262626" stroke-width="0.22" textLength="4.1" lengthAdjust="spacingAndGlyphs">9</text>
<text x="123" y="788.95" font-size="8.2" fill="#262626" stroke="#262626" stroke-width="0.22" textLength="4.1" lengthAdjust="spacingAndGlyphs">2</text>
<text x="155" y="788.95" font-size="8.2" fill="#262626" stroke="#262626" stroke-width="0.22" textLength="4.1" lengthAdjust="spacingAndGlyphs">7</text>
<text x="206.5" y="788.95" font-size="8.2" fill="#262626" stroke="#262626" stroke-width="0.22" textLength="4.1" lengthAdjust="spacingAndGlyphs">4</text>
<text x="216.3" y="704.24" font-size="9" fill="#262626" stroke="#262626" stroke-width="0.22" textLength="53.09" lengthAdjust="spacingAndGlyphs">Выключатель</text>
<text x="216.3" y="713.24" font-size="9" fill="#262626" stroke="#262626" stroke-width="0.22" textLength="42.07" lengthAdjust="spacingAndGlyphs">аварийной</text>
<text x="216.3" y="722.24" font-size="9" fill="#262626" stroke="#262626" stroke-width="0.22" textLength="53.96" lengthAdjust="spacingAndGlyphs">сигнализации</text>
<text x="121.5" y="836.25" font-size="8.2" fill="#262626" stroke="#262626" stroke-width="0.22" textLength="8.21" lengthAdjust="spacingAndGlyphs">14</text>
<text x="67.5" y="836.95" font-size="8.2" fill="#262626" stroke="#262626" stroke-width="0.22" textLength="17.23" lengthAdjust="spacingAndGlyphs">S203</text>
<text x="87" y="869.25" font-size="8.2" fill="#262626" stroke="#262626" stroke-width="0.22" textLength="8.21" lengthAdjust="spacingAndGlyphs">20</text>
<text x="123" y="869.25" font-size="8.2" fill="#262626" stroke="#262626" stroke-width="0.22" textLength="4.1" lengthAdjust="spacingAndGlyphs">5</text>
<text x="48" y="930.74" font-size="9" fill="#262626" stroke="#262626" stroke-width="0.22">К контакту «1»</text>
<text x="48" y="939.84" font-size="9" fill="#262626" stroke="#262626" stroke-width="0.22">регулятора</text>
<text x="48" y="948.84" font-size="9" fill="#262626" stroke="#262626" stroke-width="0.22">яркости</text>
<text x="48" y="957.84" font-size="9" fill="#262626" stroke="#262626" stroke-width="0.22">подсветки</text>
<text x="90.8" y="962.95" font-size="8.2" fill="#262626" stroke="#262626" stroke-width="0.22" textLength="18.05" lengthAdjust="spacingAndGlyphs">G203</text>
<text x="154.3" y="861.95" font-size="8.2" fill="#262626" stroke="#262626" stroke-width="0.22" textLength="8.21" lengthAdjust="spacingAndGlyphs">49</text>
<text x="177" y="873.95" font-size="8.2" fill="#262626" stroke="#262626" stroke-width="0.22" textLength="12.31" lengthAdjust="spacingAndGlyphs">49a</text>
<text x="164" y="906.55" font-size="8.2" fill="#262626" stroke="#262626" stroke-width="0.22" textLength="8.21" lengthAdjust="spacingAndGlyphs">31</text>
<text x="176.5" y="936.95" font-size="8.2" text-anchor="middle" fill="#262626" stroke="#262626" stroke-width="0.22" textLength="8.21" lengthAdjust="spacingAndGlyphs">56</text>
<text x="176.6" y="959.95" font-size="8.2" text-anchor="middle" fill="#262626" stroke="#262626" stroke-width="0.22" textLength="17.64" lengthAdjust="spacingAndGlyphs">C201</text>
<text x="203.5" y="936.95" font-size="8.2" text-anchor="middle" fill="#262626" stroke="#262626" stroke-width="0.22" textLength="4.1" lengthAdjust="spacingAndGlyphs">4</text>
<text x="202.6" y="959.95" font-size="8.2" text-anchor="middle" fill="#262626" stroke="#262626" stroke-width="0.22" textLength="17.64" lengthAdjust="spacingAndGlyphs">C201</text>
<text x="244" y="962.95" font-size="8.2" fill="#262626" stroke="#262626" stroke-width="0.22" textLength="18.05" lengthAdjust="spacingAndGlyphs">G201</text>
<text x="178.5" y="895.64" font-size="9" fill="#262626" stroke="#262626" stroke-width="0.22" textLength="66.98" lengthAdjust="spacingAndGlyphs">Реле указателей</text>
<text x="178.5" y="904.64" font-size="9" fill="#262626" stroke="#262626" stroke-width="0.22" textLength="63.67" lengthAdjust="spacingAndGlyphs">поворота и ава-</text>
<text x="178.5" y="913.64" font-size="9" fill="#262626" stroke="#262626" stroke-width="0.22" textLength="90.01" lengthAdjust="spacingAndGlyphs">рийной сигнализации*</text>
<text x="165.6" y="839.24" font-size="9" fill="#262626" stroke="#262626" stroke-width="0.22">К контакту «B17»</text>
<text x="165.6" y="848.84" font-size="9" fill="#262626" stroke="#262626" stroke-width="0.22">щитка приборов</text>
<text x="291.3" y="562.04" font-size="9" fill="#262626" stroke="#262626" stroke-width="0.22">К контакту</text>
<text x="291.3" y="570.84" font-size="9" fill="#262626" stroke="#262626" stroke-width="0.22">«A17»</text>
<text x="291.3" y="580.24" font-size="9" fill="#262626" stroke="#262626" stroke-width="0.22">щитка</text>
<text x="291.3" y="589.24" font-size="9" fill="#262626" stroke="#262626" stroke-width="0.22">приборов</text>
<text x="360.5" y="592.95" font-size="8.2" fill="#262626" stroke="#262626" stroke-width="0.22" textLength="4.1" lengthAdjust="spacingAndGlyphs">2</text>
<text x="334" y="616.75" font-size="8.2" text-anchor="middle" fill="#262626" stroke="#262626" stroke-width="0.22" textLength="4.1" lengthAdjust="spacingAndGlyphs">3</text>
<text x="334" y="639.95" font-size="8.2" text-anchor="middle" fill="#262626" stroke="#262626" stroke-width="0.22" textLength="4.1" lengthAdjust="spacingAndGlyphs">4</text>
<text x="360.5" y="681.45" font-size="8.2" fill="#262626" stroke="#262626" stroke-width="0.22" textLength="4.1" lengthAdjust="spacingAndGlyphs">1</text>
<text x="320.5" y="672.55" font-size="8.2" fill="#262626" stroke="#262626" stroke-width="0.22" textLength="17.23" lengthAdjust="spacingAndGlyphs">S202</text>
<text x="539.5" y="637.55" font-size="8.2" text-anchor="end" fill="#262626" stroke="#262626" stroke-width="0.22" textLength="8.21" lengthAdjust="spacingAndGlyphs">17</text>
<text x="555" y="637.95" font-size="8.2" fill="#262626" stroke="#262626" stroke-width="0.22" textLength="17.64" lengthAdjust="spacingAndGlyphs">C202</text>
<text x="395" y="707.95" font-size="8.2" fill="#262626" stroke="#262626" stroke-width="0.22" textLength="8.21" lengthAdjust="spacingAndGlyphs">12</text>
<text x="370" y="750.55" font-size="8.2" text-anchor="middle" fill="#262626" stroke="#262626" stroke-width="0.22" textLength="8.21" lengthAdjust="spacingAndGlyphs">14</text>
<text x="403.6" y="732.95" font-size="8.2" text-anchor="middle" fill="#262626" stroke="#262626" stroke-width="0.22" textLength="8.21" lengthAdjust="spacingAndGlyphs">13</text>
<text x="395" y="777.95" font-size="8.2" fill="#262626" stroke="#262626" stroke-width="0.22" textLength="7.66" lengthAdjust="spacingAndGlyphs">11</text>
<text x="356.3" y="718.55" font-size="8.2" fill="#262626" stroke="#262626" stroke-width="0.22" textLength="17.23" lengthAdjust="spacingAndGlyphs">S202</text>
<text x="393.3" y="611.24" font-size="9" fill="#262626" stroke="#262626" stroke-width="0.22">К контакту</text>
<text x="393.3" y="620.74" font-size="9" fill="#262626" stroke="#262626" stroke-width="0.22">«B11»</text>
<text x="393.3" y="630.24" font-size="9" fill="#262626" stroke="#262626" stroke-width="0.22">щитка</text>
<text x="393.3" y="639.04" font-size="9" fill="#262626" stroke="#262626" stroke-width="0.22">приборов</text>
<text x="339" y="816.25" font-size="8.2" fill="#262626" stroke="#262626" stroke-width="0.22" textLength="4.1" lengthAdjust="spacingAndGlyphs">1</text>
<text x="374" y="816.25" font-size="8.2" fill="#262626" stroke="#262626" stroke-width="0.22" textLength="4.1" lengthAdjust="spacingAndGlyphs">3</text>
<text x="356" y="861.45" font-size="8.2" fill="#262626" stroke="#262626" stroke-width="0.22" textLength="4.1" lengthAdjust="spacingAndGlyphs">2</text>
<text transform="translate(325.8,806) rotate(-90)" font-size="9" fill="#262626" textLength="26" lengthAdjust="spacingAndGlyphs">Левые</text>
<text transform="translate(362,806) rotate(-90)" font-size="9" fill="#262626" textLength="32" lengthAdjust="spacingAndGlyphs">Правые</text>
<text x="273" y="815.64" font-size="9" fill="#262626" stroke="#262626" stroke-width="0.22" textLength="29.78" lengthAdjust="spacingAndGlyphs">Выклю-</text>
<text x="273" y="824.84" font-size="9" fill="#262626" stroke="#262626" stroke-width="0.22" textLength="26.61" lengthAdjust="spacingAndGlyphs">чатель</text>
<text x="273" y="833.84" font-size="9" fill="#262626" stroke="#262626" stroke-width="0.22" textLength="43.93" lengthAdjust="spacingAndGlyphs">указателей</text>
<text x="273" y="842.64" font-size="9" fill="#262626" stroke="#262626" stroke-width="0.22" textLength="36.29" lengthAdjust="spacingAndGlyphs">поворота</text>
<text x="300" y="866.55" font-size="8.2" fill="#262626" stroke="#262626" stroke-width="0.22" textLength="8.21" lengthAdjust="spacingAndGlyphs">18</text>
<text x="272.5" y="894.65" font-size="8.2" text-anchor="middle" fill="#262626" stroke="#262626" stroke-width="0.22" textLength="8.21" lengthAdjust="spacingAndGlyphs">19</text>
<text x="309.7" y="894.65" font-size="8.2" text-anchor="middle" fill="#262626" stroke="#262626" stroke-width="0.22" textLength="8.21" lengthAdjust="spacingAndGlyphs">20</text>
<text x="280.5" y="901.75" font-size="8.2" fill="#262626" stroke="#262626" stroke-width="0.22" textLength="17.23" lengthAdjust="spacingAndGlyphs">S202</text>
<text x="334.3" y="896.74" font-size="9" fill="#262626" stroke="#262626" stroke-width="0.22" textLength="28.72" lengthAdjust="spacingAndGlyphs">Задний</text>
<text x="334.3" y="905.74" font-size="9" fill="#262626" stroke="#262626" stroke-width="0.22" textLength="29.14" lengthAdjust="spacingAndGlyphs">правый</text>
<text x="334.3" y="914.74" font-size="9" fill="#262626" stroke="#262626" stroke-width="0.22" textLength="38.46" lengthAdjust="spacingAndGlyphs">указатель</text>
<text x="334.3" y="923.74" font-size="9" fill="#262626" stroke="#262626" stroke-width="0.22" textLength="35.9" lengthAdjust="spacingAndGlyphs">поворота</text>
<text x="448.8" y="611.24" font-size="9" fill="#262626" stroke="#262626" stroke-width="0.22">К контакту</text>
<text x="448.8" y="620.74" font-size="9" fill="#262626" stroke="#262626" stroke-width="0.22">«13» блока</text>
<text x="448.8" y="630.24" font-size="9" fill="#262626" stroke="#262626" stroke-width="0.22">управления</text>
<text x="448.8" y="639.24" font-size="9" fill="#262626" stroke="#262626" stroke-width="0.22">противо-</text>
<text x="448.8" y="648.64" font-size="9" fill="#262626" stroke="#262626" stroke-width="0.22">угонной</text>
<text x="448.8" y="657.74" font-size="9" fill="#262626" stroke="#262626" stroke-width="0.22">системой</text>
<text x="506.5" y="637.15" font-size="8.2" text-anchor="end" fill="#262626" stroke="#262626" stroke-width="0.22" textLength="8.21" lengthAdjust="spacingAndGlyphs">20</text>
<text x="478" y="720.25" font-size="8.2" fill="#262626" stroke="#262626" stroke-width="0.22" textLength="8.21" lengthAdjust="spacingAndGlyphs">20</text>
<text x="521" y="720.25" font-size="8.2" fill="#262626" stroke="#262626" stroke-width="0.22" textLength="8.21" lengthAdjust="spacingAndGlyphs">18</text>
<text x="499" y="751.35" font-size="8.2" fill="#262626" stroke="#262626" stroke-width="0.22" textLength="8.21" lengthAdjust="spacingAndGlyphs">19</text>
<text x="460.5" y="752.55" font-size="8.2" fill="#262626" stroke="#262626" stroke-width="0.22" textLength="17.23" lengthAdjust="spacingAndGlyphs">S302</text>
<text x="433.5" y="769.15" font-size="8.2" text-anchor="end" fill="#262626" stroke="#262626" stroke-width="0.22" textLength="4.1" lengthAdjust="spacingAndGlyphs">5</text>
<text x="448.6" y="769.45" font-size="8.2" fill="#262626" stroke="#262626" stroke-width="0.22" textLength="17.64" lengthAdjust="spacingAndGlyphs">C401</text>
<text x="483" y="789.45" font-size="8.2" text-anchor="end" fill="#262626" stroke="#262626" stroke-width="0.22" textLength="4.1" lengthAdjust="spacingAndGlyphs">6</text>
<text x="498.6" y="789.75" font-size="8.2" fill="#262626" stroke="#262626" stroke-width="0.22" textLength="17.09" lengthAdjust="spacingAndGlyphs">C113</text>
<text x="503.3" y="803.24" font-size="9" fill="#262626" stroke="#262626" stroke-width="0.22" textLength="25.42" lengthAdjust="spacingAndGlyphs">Левый</text>
<text x="503.3" y="813.64" font-size="9" fill="#262626" stroke="#262626" stroke-width="0.22" textLength="31.71" lengthAdjust="spacingAndGlyphs">боковой</text>
<text x="503.3" y="822.84" font-size="9" fill="#262626" stroke="#262626" stroke-width="0.22" textLength="38.46" lengthAdjust="spacingAndGlyphs">указатель</text>
<text x="503.3" y="831.44" font-size="9" fill="#262626" stroke="#262626" stroke-width="0.22" textLength="35.9" lengthAdjust="spacingAndGlyphs">поворота</text>
<text x="398.8" y="837.74" font-size="9" fill="#262626" stroke="#262626" stroke-width="0.22" textLength="39.07" lengthAdjust="spacingAndGlyphs">Передний</text>
<text x="398.8" y="846.44" font-size="9" fill="#262626" stroke="#262626" stroke-width="0.22" textLength="29.29" lengthAdjust="spacingAndGlyphs">правый</text>
<text x="398.8" y="855.84" font-size="9" fill="#262626" stroke="#262626" stroke-width="0.22" textLength="38.67" lengthAdjust="spacingAndGlyphs">указатель</text>
<text x="398.8" y="865.24" font-size="9" fill="#262626" stroke="#262626" stroke-width="0.22" textLength="36.1" lengthAdjust="spacingAndGlyphs">поворота</text>
<text x="401.2" y="889.15" font-size="8.2" fill="#262626" stroke="#262626" stroke-width="0.22" textLength="4.1" lengthAdjust="spacingAndGlyphs">4</text>
<text x="401.5" y="926.95" font-size="8.2" fill="#262626" stroke="#262626" stroke-width="0.22" textLength="4.1" lengthAdjust="spacingAndGlyphs">3</text>
<text x="369.5" y="962.95" font-size="8.2" fill="#262626" stroke="#262626" stroke-width="0.22" textLength="18.05" lengthAdjust="spacingAndGlyphs">G401</text>
<text x="451" y="866.45" font-size="8.2" fill="#262626" stroke="#262626" stroke-width="0.22" textLength="4.1" lengthAdjust="spacingAndGlyphs">2</text>
<text x="452" y="903.25" font-size="8.2" fill="#262626" stroke="#262626" stroke-width="0.22" textLength="4.1" lengthAdjust="spacingAndGlyphs">1</text>
<text x="419" y="962.95" font-size="8.2" fill="#262626" stroke="#262626" stroke-width="0.22" textLength="18.05" lengthAdjust="spacingAndGlyphs">G102</text>
<text x="499.5" y="866.45" font-size="8.2" fill="#262626" stroke="#262626" stroke-width="0.22" textLength="4.1" lengthAdjust="spacingAndGlyphs">1</text>
<text x="499.5" y="903.25" font-size="8.2" fill="#262626" stroke="#262626" stroke-width="0.22" textLength="4.1" lengthAdjust="spacingAndGlyphs">2</text>
<text x="467.6" y="962.95" font-size="8.2" fill="#262626" stroke="#262626" stroke-width="0.22" textLength="18.05" lengthAdjust="spacingAndGlyphs">G102</text>
<text x="497.6" y="916.84" font-size="9" fill="#262626" stroke="#262626" stroke-width="0.22" textLength="30.79" lengthAdjust="spacingAndGlyphs">Правый</text>
<text x="497.6" y="925.44" font-size="9" fill="#262626" stroke="#262626" stroke-width="0.22" textLength="31.88" lengthAdjust="spacingAndGlyphs">боковой</text>
<text x="497.6" y="934.04" font-size="9" fill="#262626" stroke="#262626" stroke-width="0.22" textLength="38.67" lengthAdjust="spacingAndGlyphs">указатель</text>
<text x="497.6" y="943.24" font-size="9" fill="#262626" stroke="#262626" stroke-width="0.22" textLength="36.1" lengthAdjust="spacingAndGlyphs">поворота</text>
<text x="583.3" y="581.24" font-size="9" fill="#262626" stroke="#262626" stroke-width="0.22">К контакту «26»</text>
<text x="583.3" y="590.74" font-size="9" fill="#262626" stroke="#262626" stroke-width="0.22">блока</text>
<text x="583.3" y="599.54" font-size="9" fill="#262626" stroke="#262626" stroke-width="0.22">управления</text>
<text x="583.3" y="608.74" font-size="9" fill="#262626" stroke="#262626" stroke-width="0.22">противо-</text>
<text x="583.3" y="617.74" font-size="9" fill="#262626" stroke="#262626" stroke-width="0.22">угонной</text>
<text x="583.3" y="626.24" font-size="9" fill="#262626" stroke="#262626" stroke-width="0.22">системой</text>
<text x="555" y="692.95" font-size="8.2" fill="#262626" stroke="#262626" stroke-width="0.22" textLength="8.21" lengthAdjust="spacingAndGlyphs">17</text>
<text x="568" y="692.95" font-size="8.2" fill="#262626" stroke="#262626" stroke-width="0.22" textLength="17.23" lengthAdjust="spacingAndGlyphs">S302</text>
<text x="612" y="693.35" font-size="8.2" fill="#262626" stroke="#262626" stroke-width="0.22" textLength="8.21" lengthAdjust="spacingAndGlyphs">15</text>
<text x="555" y="724.95" font-size="8.2" fill="#262626" stroke="#262626" stroke-width="0.22" textLength="8.21" lengthAdjust="spacingAndGlyphs">14</text>
<text x="592" y="724.95" font-size="8.2" fill="#262626" stroke="#262626" stroke-width="0.22" textLength="8.21" lengthAdjust="spacingAndGlyphs">16</text>
<text x="555" y="772.95" font-size="8.2" fill="#262626" stroke="#262626" stroke-width="0.22" textLength="4.1" lengthAdjust="spacingAndGlyphs">1</text>
<text x="555" y="809.45" font-size="8.2" fill="#262626" stroke="#262626" stroke-width="0.22" textLength="4.1" lengthAdjust="spacingAndGlyphs">2</text>
<text x="522.4" y="962.95" font-size="8.2" fill="#262626" stroke="#262626" stroke-width="0.22" textLength="18.05" lengthAdjust="spacingAndGlyphs">G204</text>
<text x="572" y="756.95" font-size="8.2" text-anchor="end" fill="#262626" stroke="#262626" stroke-width="0.22" textLength="4.1" lengthAdjust="spacingAndGlyphs">7</text>
<text x="589.6" y="757.25" font-size="8.2" fill="#262626" stroke="#262626" stroke-width="0.22" textLength="17.09" lengthAdjust="spacingAndGlyphs">C113</text>
<text x="589.5" y="795.35" font-size="8.2" fill="#262626" stroke="#262626" stroke-width="0.22" textLength="4.1" lengthAdjust="spacingAndGlyphs">2</text>
<text x="589" y="832.45" font-size="8.2" fill="#262626" stroke="#262626" stroke-width="0.22" textLength="4.1" lengthAdjust="spacingAndGlyphs">1</text>
<text x="556" y="962.95" font-size="8.2" fill="#262626" stroke="#262626" stroke-width="0.22" textLength="18.05" lengthAdjust="spacingAndGlyphs">G101</text>
<text x="586" y="844.84" font-size="9" fill="#262626" stroke="#262626" stroke-width="0.22" textLength="39.07" lengthAdjust="spacingAndGlyphs">Передний</text>
<text x="586" y="854.44" font-size="9" fill="#262626" stroke="#262626" stroke-width="0.22" textLength="24.94" lengthAdjust="spacingAndGlyphs">левый</text>
<text x="586" y="863.44" font-size="9" fill="#262626" stroke="#262626" stroke-width="0.22" textLength="38.67" lengthAdjust="spacingAndGlyphs">указатель</text>
<text x="586" y="871.84" font-size="9" fill="#262626" stroke="#262626" stroke-width="0.22" textLength="36.1" lengthAdjust="spacingAndGlyphs">поворота</text>
<text x="626" y="673.95" font-size="8.2" text-anchor="end" fill="#262626" stroke="#262626" stroke-width="0.22" textLength="4.1" lengthAdjust="spacingAndGlyphs">6</text>
<text x="642" y="673.95" font-size="8.2" fill="#262626" stroke="#262626" stroke-width="0.22" textLength="17.64" lengthAdjust="spacingAndGlyphs">C401</text>
<text x="642.5" y="739.95" font-size="8.2" fill="#262626" stroke="#262626" stroke-width="0.22" textLength="4.1" lengthAdjust="spacingAndGlyphs">4</text>
<text x="642.6" y="776.95" font-size="8.2" fill="#262626" stroke="#262626" stroke-width="0.22" textLength="4.1" lengthAdjust="spacingAndGlyphs">3</text>
<text x="597.8" y="962.95" font-size="8.2" fill="#262626" stroke="#262626" stroke-width="0.22" textLength="18.05" lengthAdjust="spacingAndGlyphs">G401</text>
<text x="638" y="790.24" font-size="9" fill="#262626" stroke="#262626" stroke-width="0.22" textLength="29.33" lengthAdjust="spacingAndGlyphs">Задний</text>
<text x="638" y="799.24" font-size="9" fill="#262626" stroke="#262626" stroke-width="0.22" textLength="29.76" lengthAdjust="spacingAndGlyphs">правый</text>
<text x="638" y="808.44" font-size="9" fill="#262626" stroke="#262626" stroke-width="0.22" textLength="39.29" lengthAdjust="spacingAndGlyphs">указатель</text>
<text x="638" y="817.64" font-size="9" fill="#262626" stroke="#262626" stroke-width="0.22" textLength="36.67" lengthAdjust="spacingAndGlyphs">поворота</text>
</svg></body></html>
